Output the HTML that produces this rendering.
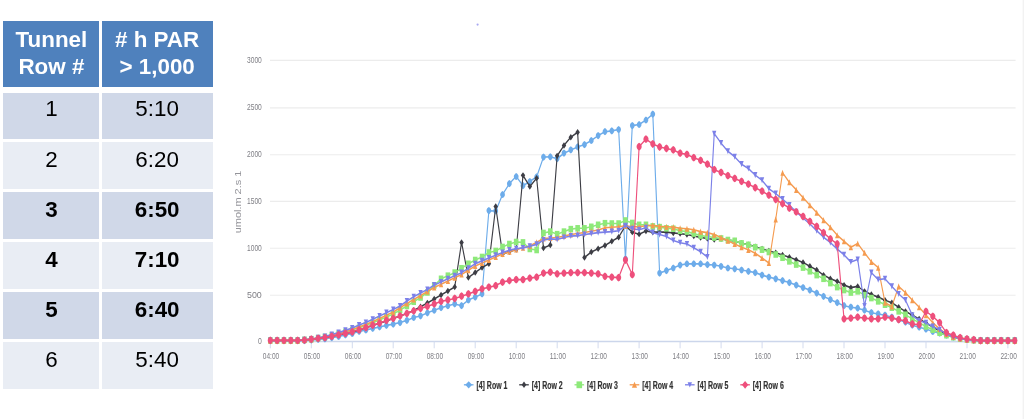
<!DOCTYPE html>
<html><head><meta charset="utf-8"><title>PAR by tunnel row</title>
<style>
html,body{margin:0;padding:0;background:#fff}
body{width:1024px;height:419px;position:relative;overflow:hidden;font-family:"Liberation Sans",sans-serif}
.c{position:absolute;text-align:center;font-size:22.4px;line-height:26.4px;color:#000;overflow:hidden}
.c span{position:relative;display:block;padding-top:6.1px}
.h{background:#4f81bd;color:#fff;font-weight:bold}
#tb{position:absolute;left:0;top:0;width:220px;height:419px;filter:blur(0.4px)}
</style></head><body>
<div id="tb">
<div class="c h" style="left:3.3px;top:21.1px;width:96.2px;height:66.3px"><span>Tunnel<br>Row #</span></div>
<div class="c h" style="left:101.7px;top:21.1px;width:110.9px;height:66.3px"><span># h PAR<br>&gt; 1,000</span></div>
<div class="c" style="left:3.3px;top:93.4px;width:96.2px;height:45.7px;background:#d0d8e8;font-weight:normal"><span style="top:-3.0px">1</span></div>
<div class="c" style="left:101.7px;top:93.4px;width:110.9px;height:45.7px;background:#d0d8e8;font-weight:normal"><span style="top:-3.0px">5:10</span></div>
<div class="c" style="left:3.3px;top:141.5px;width:96.2px;height:47.6px;background:#e9edf4;font-weight:normal"><span style="top:-1.1px">2</span></div>
<div class="c" style="left:101.7px;top:141.5px;width:110.9px;height:47.6px;background:#e9edf4;font-weight:normal"><span style="top:-1.1px">6:20</span></div>
<div class="c" style="left:3.3px;top:191.5px;width:96.2px;height:47.6px;background:#d0d8e8;font-weight:bold"><span style="top:-1.1px">3</span></div>
<div class="c" style="left:101.7px;top:191.5px;width:110.9px;height:47.6px;background:#d0d8e8;font-weight:bold"><span style="top:-1.1px">6:50</span></div>
<div class="c" style="left:3.3px;top:241.5px;width:96.2px;height:47.6px;background:#e9edf4;font-weight:bold"><span style="top:-1.1px">4</span></div>
<div class="c" style="left:101.7px;top:241.5px;width:110.9px;height:47.6px;background:#e9edf4;font-weight:bold"><span style="top:-1.1px">7:10</span></div>
<div class="c" style="left:3.3px;top:291.5px;width:96.2px;height:47.6px;background:#d0d8e8;font-weight:bold"><span style="top:-1.1px">5</span></div>
<div class="c" style="left:101.7px;top:291.5px;width:110.9px;height:47.6px;background:#d0d8e8;font-weight:bold"><span style="top:-1.1px">6:40</span></div>
<div class="c" style="left:3.3px;top:341.5px;width:96.2px;height:47.6px;background:#e9edf4;font-weight:normal"><span style="top:-1.1px">6</span></div>
<div class="c" style="left:101.7px;top:341.5px;width:110.9px;height:47.6px;background:#e9edf4;font-weight:normal"><span style="top:-1.1px">5:40</span></div>
</div>
<svg width="1024" height="419" viewBox="0 0 1024 419" style="position:absolute;left:0;top:0">
<defs><filter id="b" x="-2%" y="-2%" width="104%" height="104%"><feGaussianBlur stdDeviation="0.6"/></filter><filter id="b2" x="-5%" y="-5%" width="110%" height="110%"><feGaussianBlur stdDeviation="0.5"/></filter></defs>
<rect x="1022.6" y="0" width="1.4" height="419" fill="#f2f2f2"/>
<circle cx="477.6" cy="24.6" r="1.1" fill="#a9a9f2" filter="url(#b)"/>
<g filter="url(#b)">
<line x1="270" y1="295.2" x2="1015.6" y2="295.2" stroke="#ececec" stroke-width="1.1"/>
<line x1="270" y1="248.3" x2="1015.6" y2="248.3" stroke="#ececec" stroke-width="1.1"/>
<line x1="270" y1="201.4" x2="1015.6" y2="201.4" stroke="#ececec" stroke-width="1.1"/>
<line x1="270" y1="154.8" x2="1015.6" y2="154.8" stroke="#ececec" stroke-width="1.1"/>
<line x1="270" y1="107.9" x2="1015.6" y2="107.9" stroke="#ececec" stroke-width="1.1"/>
<line x1="270" y1="60.4" x2="1015.6" y2="60.4" stroke="#ececec" stroke-width="1.1"/>
<line x1="270" y1="341.5" x2="1015.6" y2="341.6" stroke="#ccd6eb" stroke-width="1.6"/>
<line x1="270.3" y1="341.5" x2="270.3" y2="348.3" stroke="#d3dbee" stroke-width="1"/>
<line x1="311.3" y1="341.5" x2="311.3" y2="348.3" stroke="#d3dbee" stroke-width="1"/>
<line x1="352.3" y1="341.5" x2="352.3" y2="348.3" stroke="#d3dbee" stroke-width="1"/>
<line x1="393.2" y1="341.5" x2="393.2" y2="348.3" stroke="#d3dbee" stroke-width="1"/>
<line x1="434.2" y1="341.5" x2="434.2" y2="348.3" stroke="#d3dbee" stroke-width="1"/>
<line x1="475.2" y1="341.5" x2="475.2" y2="348.3" stroke="#d3dbee" stroke-width="1"/>
<line x1="516.2" y1="341.5" x2="516.2" y2="348.3" stroke="#d3dbee" stroke-width="1"/>
<line x1="557.2" y1="341.5" x2="557.2" y2="348.3" stroke="#d3dbee" stroke-width="1"/>
<line x1="598.1" y1="341.5" x2="598.1" y2="348.3" stroke="#d3dbee" stroke-width="1"/>
<line x1="639.1" y1="341.5" x2="639.1" y2="348.3" stroke="#d3dbee" stroke-width="1"/>
<line x1="680.1" y1="341.5" x2="680.1" y2="348.3" stroke="#d3dbee" stroke-width="1"/>
<line x1="721.1" y1="341.5" x2="721.1" y2="348.3" stroke="#d3dbee" stroke-width="1"/>
<line x1="762.1" y1="341.5" x2="762.1" y2="348.3" stroke="#d3dbee" stroke-width="1"/>
<line x1="803.0" y1="341.5" x2="803.0" y2="348.3" stroke="#d3dbee" stroke-width="1"/>
<line x1="844.0" y1="341.5" x2="844.0" y2="348.3" stroke="#d3dbee" stroke-width="1"/>
<line x1="885.0" y1="341.5" x2="885.0" y2="348.3" stroke="#d3dbee" stroke-width="1"/>
<line x1="926.0" y1="341.5" x2="926.0" y2="348.3" stroke="#d3dbee" stroke-width="1"/>
<line x1="967.0" y1="341.5" x2="967.0" y2="348.3" stroke="#d3dbee" stroke-width="1"/>
<line x1="1007.9" y1="341.5" x2="1007.9" y2="348.3" stroke="#d3dbee" stroke-width="1"/>
<g transform="scale(0.56,0.8)" stroke-linejoin="round" fill="none">
<polyline points="482.7,425.8 494.9,425.8 507.1,425.8 519.3,425.8 531.5,425.8 543.7,425.8 555.9,425.0 568.1,424.2 580.2,423.5 592.4,422.1 604.6,420.6 616.8,418.8 629.0,416.9 641.2,414.2 653.4,412.5 665.6,410.5 677.8,408.8 690.0,406.7 702.2,405.2 714.4,403.2 726.6,400.5 738.8,396.9 751.0,394.9 763.2,391.0 775.4,387.8 787.6,384.6 799.8,382.2 812.0,379.9 824.2,382.1 836.4,375.0 848.6,371.2 860.8,367.4 873.0,263.4 885.2,263.8 897.4,243.1 909.6,229.6 921.8,220.6 933.9,232.1 946.1,226.9 958.3,221.0 970.5,196.4 982.7,196.0 994.9,198.4 1007.1,191.5 1019.3,187.4 1031.5,183.8 1043.7,180.7 1055.9,175.6 1068.1,169.5 1080.3,164.6 1092.5,163.6 1104.7,161.9 1116.9,323.8 1129.1,157.0 1141.3,155.6 1153.5,150.0 1165.7,142.6 1177.9,341.4 1190.1,338.2 1202.3,335.0 1214.5,331.2 1226.7,329.8 1238.9,329.8 1251.1,329.8 1263.2,330.8 1275.4,331.2 1287.6,332.9 1299.8,335.0 1312.0,336.0 1324.2,337.5 1336.4,339.1 1348.6,340.8 1360.8,343.9 1373.0,346.4 1385.2,348.5 1397.4,350.8 1409.6,353.2 1421.8,356.4 1434.0,359.5 1446.2,362.6 1458.4,366.4 1470.6,370.5 1482.8,374.5 1495.0,378.4 1507.2,382.1 1519.4,384.0 1531.6,385.2 1543.8,387.7 1556.0,390.9 1568.2,392.4 1580.4,394.0 1592.6,396.5 1604.8,399.6 1616.9,402.7 1629.1,406.5 1641.3,409.0 1653.5,411.2 1665.7,414.4 1677.9,416.5 1690.1,419.0 1702.3,421.5 1714.5,423.1 1726.7,424.4 1738.9,425.4 1751.1,425.9 1763.3,425.9 1775.5,425.9 1787.7,425.9 1799.9,425.9 1812.1,425.9" stroke="#6dacea" stroke-width="2.0"/>
<g stroke="none"><path d="M482.7 421.2C488.3 423.5 488.3 428.0 482.7 430.2C477.1 428.0 477.1 423.5 482.7 421.2Z" fill="#6dacea"/><path d="M494.9 421.2C500.5 423.5 500.5 428.0 494.9 430.2C489.2 428.0 489.2 423.5 494.9 421.2Z" fill="#6dacea"/><path d="M507.1 421.2C512.7 423.5 512.7 428.0 507.1 430.2C501.4 428.0 501.4 423.5 507.1 421.2Z" fill="#6dacea"/><path d="M519.3 421.2C524.9 423.5 524.9 428.0 519.3 430.2C513.6 428.0 513.6 423.5 519.3 421.2Z" fill="#6dacea"/><path d="M531.5 421.2C537.1 423.5 537.1 428.0 531.5 430.2C525.8 428.0 525.8 423.5 531.5 421.2Z" fill="#6dacea"/><path d="M543.7 421.2C549.3 423.5 549.3 428.0 543.7 430.2C538.0 428.0 538.0 423.5 543.7 421.2Z" fill="#6dacea"/><path d="M555.9 420.5C561.5 422.8 561.5 427.2 555.9 429.5C550.2 427.2 550.2 422.8 555.9 420.5Z" fill="#6dacea"/><path d="M568.1 419.7C573.7 422.0 573.7 426.5 568.1 428.7C562.4 426.5 562.4 422.0 568.1 419.7Z" fill="#6dacea"/><path d="M580.2 419.0C585.9 421.2 585.9 425.8 580.2 428.0C574.6 425.8 574.6 421.2 580.2 419.0Z" fill="#6dacea"/><path d="M592.4 417.6C598.1 419.8 598.1 424.3 592.4 426.6C586.8 424.3 586.8 419.8 592.4 417.6Z" fill="#6dacea"/><path d="M604.6 416.1C610.3 418.4 610.3 422.9 604.6 425.1C599.0 422.9 599.0 418.4 604.6 416.1Z" fill="#6dacea"/><path d="M616.8 414.2C622.5 416.5 622.5 421.0 616.8 423.2C611.2 421.0 611.2 416.5 616.8 414.2Z" fill="#6dacea"/><path d="M629.0 412.4C634.7 414.6 634.7 419.1 629.0 421.4C623.4 419.1 623.4 414.6 629.0 412.4Z" fill="#6dacea"/><path d="M641.2 409.7C646.9 412.0 646.9 416.5 641.2 418.7C635.6 416.5 635.6 412.0 641.2 409.7Z" fill="#6dacea"/><path d="M653.4 408.0C659.1 410.2 659.1 414.8 653.4 417.0C647.8 414.8 647.8 410.2 653.4 408.0Z" fill="#6dacea"/><path d="M665.6 406.0C671.2 408.2 671.2 412.7 665.6 415.0C660.0 412.7 660.0 408.2 665.6 406.0Z" fill="#6dacea"/><path d="M677.8 404.2C683.4 406.5 683.4 411.0 677.8 413.2C672.2 411.0 672.2 406.5 677.8 404.2Z" fill="#6dacea"/><path d="M690.0 402.2C695.6 404.5 695.6 409.0 690.0 411.2C684.4 409.0 684.4 404.5 690.0 402.2Z" fill="#6dacea"/><path d="M702.2 400.7C707.8 403.0 707.8 407.5 702.2 409.7C696.6 407.5 696.6 403.0 702.2 400.7Z" fill="#6dacea"/><path d="M714.4 398.8C720.0 401.0 720.0 405.5 714.4 407.8C708.8 405.5 708.8 401.0 714.4 398.8Z" fill="#6dacea"/><path d="M726.6 396.0C732.2 398.2 732.2 402.7 726.6 405.0C721.0 402.7 721.0 398.2 726.6 396.0Z" fill="#6dacea"/><path d="M738.8 392.4C744.4 394.6 744.4 399.1 738.8 401.4C733.2 399.1 733.2 394.6 738.8 392.4Z" fill="#6dacea"/><path d="M751.0 390.4C756.6 392.6 756.6 397.1 751.0 399.4C745.4 397.1 745.4 392.6 751.0 390.4Z" fill="#6dacea"/><path d="M763.2 386.5C768.8 388.8 768.8 393.2 763.2 395.5C757.6 393.2 757.6 388.8 763.2 386.5Z" fill="#6dacea"/><path d="M775.4 383.3C781.0 385.6 781.0 390.1 775.4 392.3C769.8 390.1 769.8 385.6 775.4 383.3Z" fill="#6dacea"/><path d="M787.6 380.1C793.2 382.4 793.2 386.9 787.6 389.1C782.0 386.9 782.0 382.4 787.6 380.1Z" fill="#6dacea"/><path d="M799.8 377.7C805.4 380.0 805.4 384.5 799.8 386.7C794.2 384.5 794.2 380.0 799.8 377.7Z" fill="#6dacea"/><path d="M812.0 375.4C817.6 377.6 817.6 382.1 812.0 384.4C806.4 382.1 806.4 377.6 812.0 375.4Z" fill="#6dacea"/><path d="M824.2 377.6C829.8 379.9 829.8 384.4 824.2 386.6C818.6 384.4 818.6 379.9 824.2 377.6Z" fill="#6dacea"/><path d="M836.4 370.5C842.0 372.8 842.0 377.2 836.4 379.5C830.7 377.2 830.7 372.8 836.4 370.5Z" fill="#6dacea"/><path d="M848.6 366.8C854.2 369.0 854.2 373.5 848.6 375.8C842.9 373.5 842.9 369.0 848.6 366.8Z" fill="#6dacea"/><path d="M860.8 362.9C866.4 365.1 866.4 369.6 860.8 371.9C855.1 369.6 855.1 365.1 860.8 362.9Z" fill="#6dacea"/><path d="M873.0 258.9C878.6 261.1 878.6 265.6 873.0 267.9C867.3 265.6 867.3 261.1 873.0 258.9Z" fill="#6dacea"/><path d="M885.2 259.2C890.8 261.5 890.8 266.0 885.2 268.2C879.5 266.0 879.5 261.5 885.2 259.2Z" fill="#6dacea"/><path d="M897.4 238.6C903.0 240.9 903.0 245.4 897.4 247.6C891.7 245.4 891.7 240.9 897.4 238.6Z" fill="#6dacea"/><path d="M909.6 225.1C915.2 227.4 915.2 231.9 909.6 234.1C903.9 231.9 903.9 227.4 909.6 225.1Z" fill="#6dacea"/><path d="M921.8 216.1C927.4 218.4 927.4 222.9 921.8 225.1C916.1 222.9 916.1 218.4 921.8 216.1Z" fill="#6dacea"/><path d="M933.9 227.6C939.6 229.9 939.6 234.4 933.9 236.6C928.3 234.4 928.3 229.9 933.9 227.6Z" fill="#6dacea"/><path d="M946.1 222.4C951.8 224.6 951.8 229.1 946.1 231.4C940.5 229.1 940.5 224.6 946.1 222.4Z" fill="#6dacea"/><path d="M958.3 216.5C964.0 218.8 964.0 223.2 958.3 225.5C952.7 223.2 952.7 218.8 958.3 216.5Z" fill="#6dacea"/><path d="M970.5 191.9C976.2 194.1 976.2 198.6 970.5 200.9C964.9 198.6 964.9 194.1 970.5 191.9Z" fill="#6dacea"/><path d="M982.7 191.5C988.4 193.8 988.4 198.2 982.7 200.5C977.1 198.2 977.1 193.8 982.7 191.5Z" fill="#6dacea"/><path d="M994.9 193.9C1000.6 196.1 1000.6 200.6 994.9 202.9C989.3 200.6 989.3 196.1 994.9 193.9Z" fill="#6dacea"/><path d="M1007.1 187.0C1012.7 189.2 1012.7 193.7 1007.1 196.0C1001.5 193.7 1001.5 189.2 1007.1 187.0Z" fill="#6dacea"/><path d="M1019.3 182.9C1024.9 185.1 1024.9 189.6 1019.3 191.9C1013.7 189.6 1013.7 185.1 1019.3 182.9Z" fill="#6dacea"/><path d="M1031.5 179.2C1037.1 181.5 1037.1 186.0 1031.5 188.2C1025.9 186.0 1025.9 181.5 1031.5 179.2Z" fill="#6dacea"/><path d="M1043.7 176.2C1049.3 178.5 1049.3 183.0 1043.7 185.2C1038.1 183.0 1038.1 178.5 1043.7 176.2Z" fill="#6dacea"/><path d="M1055.9 171.1C1061.5 173.4 1061.5 177.9 1055.9 180.1C1050.3 177.9 1050.3 173.4 1055.9 171.1Z" fill="#6dacea"/><path d="M1068.1 165.0C1073.7 167.2 1073.7 171.7 1068.1 174.0C1062.5 171.7 1062.5 167.2 1068.1 165.0Z" fill="#6dacea"/><path d="M1080.3 160.1C1085.9 162.4 1085.9 166.9 1080.3 169.1C1074.7 166.9 1074.7 162.4 1080.3 160.1Z" fill="#6dacea"/><path d="M1092.5 159.1C1098.1 161.4 1098.1 165.9 1092.5 168.1C1086.9 165.9 1086.9 161.4 1092.5 159.1Z" fill="#6dacea"/><path d="M1104.7 157.4C1110.3 159.6 1110.3 164.1 1104.7 166.4C1099.1 164.1 1099.1 159.6 1104.7 157.4Z" fill="#6dacea"/><path d="M1116.9 319.2C1122.5 321.5 1122.5 326.0 1116.9 328.2C1111.3 326.0 1111.3 321.5 1116.9 319.2Z" fill="#6dacea"/><path d="M1129.1 152.5C1134.7 154.7 1134.7 159.2 1129.1 161.5C1123.5 159.2 1123.5 154.7 1129.1 152.5Z" fill="#6dacea"/><path d="M1141.3 151.1C1146.9 153.4 1146.9 157.9 1141.3 160.1C1135.7 157.9 1135.7 153.4 1141.3 151.1Z" fill="#6dacea"/><path d="M1153.5 145.5C1159.1 147.8 1159.1 152.2 1153.5 154.5C1147.9 152.2 1147.9 147.8 1153.5 145.5Z" fill="#6dacea"/><path d="M1165.7 138.1C1171.3 140.4 1171.3 144.9 1165.7 147.1C1160.1 144.9 1160.1 140.4 1165.7 138.1Z" fill="#6dacea"/><path d="M1177.9 336.9C1183.5 339.1 1183.5 343.6 1177.9 345.9C1172.2 343.6 1172.2 339.1 1177.9 336.9Z" fill="#6dacea"/><path d="M1190.1 333.8C1195.7 336.0 1195.7 340.5 1190.1 342.8C1184.4 340.5 1184.4 336.0 1190.1 333.8Z" fill="#6dacea"/><path d="M1202.3 330.5C1207.9 332.8 1207.9 337.2 1202.3 339.5C1196.6 337.2 1196.6 332.8 1202.3 330.5Z" fill="#6dacea"/><path d="M1214.5 326.8C1220.1 329.0 1220.1 333.5 1214.5 335.8C1208.8 333.5 1208.8 329.0 1214.5 326.8Z" fill="#6dacea"/><path d="M1226.7 325.2C1232.3 327.5 1232.3 332.0 1226.7 334.2C1221.0 332.0 1221.0 327.5 1226.7 325.2Z" fill="#6dacea"/><path d="M1238.9 325.2C1244.5 327.5 1244.5 332.0 1238.9 334.2C1233.2 332.0 1233.2 327.5 1238.9 325.2Z" fill="#6dacea"/><path d="M1251.1 325.2C1256.7 327.5 1256.7 332.0 1251.1 334.2C1245.4 332.0 1245.4 327.5 1251.1 325.2Z" fill="#6dacea"/><path d="M1263.2 326.2C1268.9 328.5 1268.9 333.0 1263.2 335.2C1257.6 333.0 1257.6 328.5 1263.2 326.2Z" fill="#6dacea"/><path d="M1275.4 326.8C1281.1 329.0 1281.1 333.5 1275.4 335.8C1269.8 333.5 1269.8 329.0 1275.4 326.8Z" fill="#6dacea"/><path d="M1287.6 328.4C1293.3 330.6 1293.3 335.1 1287.6 337.4C1282.0 335.1 1282.0 330.6 1287.6 328.4Z" fill="#6dacea"/><path d="M1299.8 330.5C1305.5 332.8 1305.5 337.2 1299.8 339.5C1294.2 337.2 1294.2 332.8 1299.8 330.5Z" fill="#6dacea"/><path d="M1312.0 331.5C1317.7 333.8 1317.7 338.2 1312.0 340.5C1306.4 338.2 1306.4 333.8 1312.0 331.5Z" fill="#6dacea"/><path d="M1324.2 333.0C1329.9 335.2 1329.9 339.8 1324.2 342.0C1318.6 339.8 1318.6 335.2 1324.2 333.0Z" fill="#6dacea"/><path d="M1336.4 334.6C1342.1 336.9 1342.1 341.4 1336.4 343.6C1330.8 341.4 1330.8 336.9 1336.4 334.6Z" fill="#6dacea"/><path d="M1348.6 336.2C1354.2 338.5 1354.2 343.0 1348.6 345.2C1343.0 343.0 1343.0 338.5 1348.6 336.2Z" fill="#6dacea"/><path d="M1360.8 339.4C1366.4 341.6 1366.4 346.1 1360.8 348.4C1355.2 346.1 1355.2 341.6 1360.8 339.4Z" fill="#6dacea"/><path d="M1373.0 341.9C1378.6 344.1 1378.6 348.6 1373.0 350.9C1367.4 348.6 1367.4 344.1 1373.0 341.9Z" fill="#6dacea"/><path d="M1385.2 344.0C1390.8 346.2 1390.8 350.8 1385.2 353.0C1379.6 350.8 1379.6 346.2 1385.2 344.0Z" fill="#6dacea"/><path d="M1397.4 346.2C1403.0 348.5 1403.0 353.0 1397.4 355.2C1391.8 353.0 1391.8 348.5 1397.4 346.2Z" fill="#6dacea"/><path d="M1409.6 348.8C1415.2 351.0 1415.2 355.5 1409.6 357.8C1404.0 355.5 1404.0 351.0 1409.6 348.8Z" fill="#6dacea"/><path d="M1421.8 351.9C1427.4 354.1 1427.4 358.6 1421.8 360.9C1416.2 358.6 1416.2 354.1 1421.8 351.9Z" fill="#6dacea"/><path d="M1434.0 355.0C1439.6 357.2 1439.6 361.8 1434.0 364.0C1428.4 361.8 1428.4 357.2 1434.0 355.0Z" fill="#6dacea"/><path d="M1446.2 358.1C1451.8 360.4 1451.8 364.9 1446.2 367.1C1440.6 364.9 1440.6 360.4 1446.2 358.1Z" fill="#6dacea"/><path d="M1458.4 361.9C1464.0 364.1 1464.0 368.6 1458.4 370.9C1452.8 368.6 1452.8 364.1 1458.4 361.9Z" fill="#6dacea"/><path d="M1470.6 366.0C1476.2 368.2 1476.2 372.7 1470.6 375.0C1465.0 372.7 1465.0 368.2 1470.6 366.0Z" fill="#6dacea"/><path d="M1482.8 370.0C1488.4 372.2 1488.4 376.8 1482.8 379.0C1477.2 376.8 1477.2 372.2 1482.8 370.0Z" fill="#6dacea"/><path d="M1495.0 373.9C1500.6 376.1 1500.6 380.6 1495.0 382.9C1489.4 380.6 1489.4 376.1 1495.0 373.9Z" fill="#6dacea"/><path d="M1507.2 377.6C1512.8 379.9 1512.8 384.4 1507.2 386.6C1501.6 384.4 1501.6 379.9 1507.2 377.6Z" fill="#6dacea"/><path d="M1519.4 379.5C1525.0 381.7 1525.0 386.2 1519.4 388.5C1513.7 386.2 1513.7 381.7 1519.4 379.5Z" fill="#6dacea"/><path d="M1531.6 380.7C1537.2 383.0 1537.2 387.5 1531.6 389.7C1525.9 387.5 1525.9 383.0 1531.6 380.7Z" fill="#6dacea"/><path d="M1543.8 383.2C1549.4 385.5 1549.4 390.0 1543.8 392.2C1538.1 390.0 1538.1 385.5 1543.8 383.2Z" fill="#6dacea"/><path d="M1556.0 386.4C1561.6 388.6 1561.6 393.1 1556.0 395.4C1550.3 393.1 1550.3 388.6 1556.0 386.4Z" fill="#6dacea"/><path d="M1568.2 387.9C1573.8 390.1 1573.8 394.6 1568.2 396.9C1562.5 394.6 1562.5 390.1 1568.2 387.9Z" fill="#6dacea"/><path d="M1580.4 389.5C1586.0 391.7 1586.0 396.2 1580.4 398.5C1574.7 396.2 1574.7 391.7 1580.4 389.5Z" fill="#6dacea"/><path d="M1592.6 392.0C1598.2 394.2 1598.2 398.7 1592.6 401.0C1586.9 398.7 1586.9 394.2 1592.6 392.0Z" fill="#6dacea"/><path d="M1604.8 395.1C1610.4 397.4 1610.4 401.9 1604.8 404.1C1599.1 401.9 1599.1 397.4 1604.8 395.1Z" fill="#6dacea"/><path d="M1616.9 398.2C1622.6 400.5 1622.6 405.0 1616.9 407.2C1611.3 405.0 1611.3 400.5 1616.9 398.2Z" fill="#6dacea"/><path d="M1629.1 402.0C1634.8 404.2 1634.8 408.7 1629.1 411.0C1623.5 408.7 1623.5 404.2 1629.1 402.0Z" fill="#6dacea"/><path d="M1641.3 404.5C1647.0 406.7 1647.0 411.2 1641.3 413.5C1635.7 411.2 1635.7 406.7 1641.3 404.5Z" fill="#6dacea"/><path d="M1653.5 406.8C1659.2 409.0 1659.2 413.5 1653.5 415.8C1647.9 413.5 1647.9 409.0 1653.5 406.8Z" fill="#6dacea"/><path d="M1665.7 409.9C1671.4 412.1 1671.4 416.6 1665.7 418.9C1660.1 416.6 1660.1 412.1 1665.7 409.9Z" fill="#6dacea"/><path d="M1677.9 412.0C1683.6 414.2 1683.6 418.7 1677.9 421.0C1672.3 418.7 1672.3 414.2 1677.9 412.0Z" fill="#6dacea"/><path d="M1690.1 414.5C1695.8 416.7 1695.8 421.2 1690.1 423.5C1684.5 421.2 1684.5 416.7 1690.1 414.5Z" fill="#6dacea"/><path d="M1702.3 417.0C1707.9 419.2 1707.9 423.7 1702.3 426.0C1696.7 423.7 1696.7 419.2 1702.3 417.0Z" fill="#6dacea"/><path d="M1714.5 418.6C1720.1 420.9 1720.1 425.4 1714.5 427.6C1708.9 425.4 1708.9 420.9 1714.5 418.6Z" fill="#6dacea"/><path d="M1726.7 419.9C1732.3 422.1 1732.3 426.6 1726.7 428.9C1721.1 426.6 1721.1 422.1 1726.7 419.9Z" fill="#6dacea"/><path d="M1738.9 420.9C1744.5 423.1 1744.5 427.6 1738.9 429.9C1733.3 427.6 1733.3 423.1 1738.9 420.9Z" fill="#6dacea"/><path d="M1751.1 421.4C1756.7 423.6 1756.7 428.1 1751.1 430.4C1745.5 428.1 1745.5 423.6 1751.1 421.4Z" fill="#6dacea"/><path d="M1763.3 421.4C1768.9 423.6 1768.9 428.1 1763.3 430.4C1757.7 428.1 1757.7 423.6 1763.3 421.4Z" fill="#6dacea"/><path d="M1775.5 421.4C1781.1 423.6 1781.1 428.1 1775.5 430.4C1769.9 428.1 1769.9 423.6 1775.5 421.4Z" fill="#6dacea"/><path d="M1787.7 421.4C1793.3 423.6 1793.3 428.1 1787.7 430.4C1782.1 428.1 1782.1 423.6 1787.7 421.4Z" fill="#6dacea"/><path d="M1799.9 421.4C1805.5 423.6 1805.5 428.1 1799.9 430.4C1794.3 428.1 1794.3 423.6 1799.9 421.4Z" fill="#6dacea"/><path d="M1812.1 421.4C1817.7 423.6 1817.7 428.1 1812.1 430.4C1806.5 428.1 1806.5 423.6 1812.1 421.4Z" fill="#6dacea"/></g>
<polyline points="482.7,425.6 494.9,425.6 507.1,425.6 519.3,425.6 531.5,425.6 543.7,424.9 555.9,424.2 568.1,423.2 580.2,422.1 592.4,420.4 604.6,418.8 616.8,416.9 629.0,415.0 641.2,412.4 653.4,409.8 665.6,406.9 677.8,404.1 690.0,401.2 702.2,398.2 714.4,395.1 726.6,391.9 738.8,388.1 751.0,383.5 763.2,378.8 775.4,373.8 787.6,368.8 799.8,363.8 812.0,358.8 824.2,303.1 836.4,347.0 848.6,340.6 860.8,334.5 873.0,329.8 885.2,258.2 897.4,317.5 909.6,314.8 921.8,311.9 933.9,219.2 946.1,233.2 958.3,222.7 970.5,310.0 982.7,306.2 994.9,194.8 1007.1,181.8 1019.3,171.5 1031.5,165.4 1043.7,321.9 1055.9,315.0 1068.1,311.0 1080.3,306.8 1092.5,301.6 1104.7,296.6 1116.9,282.2 1129.1,290.2 1141.3,292.7 1153.5,288.8 1165.7,290.2 1177.9,290.0 1190.1,290.2 1202.3,291.2 1214.5,292.0 1226.7,293.2 1238.9,295.1 1251.1,296.9 1263.2,298.1 1275.4,299.4 1287.6,298.5 1299.8,300.2 1312.0,301.2 1324.2,304.0 1336.4,305.8 1348.6,308.5 1360.8,311.2 1373.0,313.8 1385.2,316.0 1397.4,318.8 1409.6,321.6 1421.8,324.8 1434.0,328.2 1446.2,332.9 1458.4,337.5 1470.6,343.9 1482.8,348.5 1495.0,351.7 1507.2,356.4 1519.4,359.5 1531.6,358.0 1543.8,364.2 1556.0,368.2 1568.2,371.4 1580.4,375.2 1592.6,378.4 1604.8,384.0 1616.9,389.2 1629.1,394.0 1641.3,398.6 1653.5,403.8 1665.7,408.8 1677.9,413.8 1690.1,418.1 1702.3,421.2 1714.5,423.1 1726.7,424.4 1738.9,425.2 1751.1,425.8 1763.3,425.8 1775.5,425.8 1787.7,425.8 1799.9,425.8 1812.1,425.8" stroke="#3c3d44" stroke-width="2.0"/>
<g stroke="none"><path d="M482.7 421.6L486.7 425.6 482.7 429.6 478.7 425.6Z" fill="#3c3d44"/><path d="M494.9 421.6L498.9 425.6 494.9 429.6 490.9 425.6Z" fill="#3c3d44"/><path d="M507.1 421.6L511.1 425.6 507.1 429.6 503.1 425.6Z" fill="#3c3d44"/><path d="M519.3 421.6L523.3 425.6 519.3 429.6 515.3 425.6Z" fill="#3c3d44"/><path d="M531.5 421.6L535.5 425.6 531.5 429.6 527.5 425.6Z" fill="#3c3d44"/><path d="M543.7 420.9L547.7 424.9 543.7 428.9 539.7 424.9Z" fill="#3c3d44"/><path d="M555.9 420.2L559.9 424.2 555.9 428.2 551.9 424.2Z" fill="#3c3d44"/><path d="M568.1 419.2L572.1 423.2 568.1 427.2 564.1 423.2Z" fill="#3c3d44"/><path d="M580.2 418.1L584.2 422.1 580.2 426.1 576.2 422.1Z" fill="#3c3d44"/><path d="M592.4 416.4L596.4 420.4 592.4 424.4 588.4 420.4Z" fill="#3c3d44"/><path d="M604.6 414.8L608.6 418.8 604.6 422.8 600.6 418.8Z" fill="#3c3d44"/><path d="M616.8 412.9L620.8 416.9 616.8 420.9 612.8 416.9Z" fill="#3c3d44"/><path d="M629.0 411.0L633.0 415.0 629.0 419.0 625.0 415.0Z" fill="#3c3d44"/><path d="M641.2 408.4L645.2 412.4 641.2 416.4 637.2 412.4Z" fill="#3c3d44"/><path d="M653.4 405.8L657.4 409.8 653.4 413.8 649.4 409.8Z" fill="#3c3d44"/><path d="M665.6 402.9L669.6 406.9 665.6 410.9 661.6 406.9Z" fill="#3c3d44"/><path d="M677.8 400.1L681.8 404.1 677.8 408.1 673.8 404.1Z" fill="#3c3d44"/><path d="M690.0 397.2L694.0 401.2 690.0 405.2 686.0 401.2Z" fill="#3c3d44"/><path d="M702.2 394.2L706.2 398.2 702.2 402.2 698.2 398.2Z" fill="#3c3d44"/><path d="M714.4 391.1L718.4 395.1 714.4 399.1 710.4 395.1Z" fill="#3c3d44"/><path d="M726.6 387.9L730.6 391.9 726.6 395.9 722.6 391.9Z" fill="#3c3d44"/><path d="M738.8 384.1L742.8 388.1 738.8 392.1 734.8 388.1Z" fill="#3c3d44"/><path d="M751.0 379.5L755.0 383.5 751.0 387.5 747.0 383.5Z" fill="#3c3d44"/><path d="M763.2 374.8L767.2 378.8 763.2 382.8 759.2 378.8Z" fill="#3c3d44"/><path d="M775.4 369.8L779.4 373.8 775.4 377.8 771.4 373.8Z" fill="#3c3d44"/><path d="M787.6 364.8L791.6 368.8 787.6 372.8 783.6 368.8Z" fill="#3c3d44"/><path d="M799.8 359.8L803.8 363.8 799.8 367.8 795.8 363.8Z" fill="#3c3d44"/><path d="M812.0 354.8L816.0 358.8 812.0 362.8 808.0 358.8Z" fill="#3c3d44"/><path d="M824.2 299.1L828.2 303.1 824.2 307.1 820.2 303.1Z" fill="#3c3d44"/><path d="M836.4 343.0L840.4 347.0 836.4 351.0 832.4 347.0Z" fill="#3c3d44"/><path d="M848.6 336.6L852.6 340.6 848.6 344.6 844.6 340.6Z" fill="#3c3d44"/><path d="M860.8 330.5L864.8 334.5 860.8 338.5 856.8 334.5Z" fill="#3c3d44"/><path d="M873.0 325.8L877.0 329.8 873.0 333.8 869.0 329.8Z" fill="#3c3d44"/><path d="M885.2 254.2L889.2 258.2 885.2 262.2 881.2 258.2Z" fill="#3c3d44"/><path d="M897.4 313.5L901.4 317.5 897.4 321.5 893.4 317.5Z" fill="#3c3d44"/><path d="M909.6 310.8L913.6 314.8 909.6 318.8 905.6 314.8Z" fill="#3c3d44"/><path d="M921.8 307.9L925.8 311.9 921.8 315.9 917.8 311.9Z" fill="#3c3d44"/><path d="M933.9 215.2L937.9 219.2 933.9 223.2 929.9 219.2Z" fill="#3c3d44"/><path d="M946.1 229.2L950.1 233.2 946.1 237.2 942.1 233.2Z" fill="#3c3d44"/><path d="M958.3 218.7L962.3 222.7 958.3 226.7 954.3 222.7Z" fill="#3c3d44"/><path d="M970.5 306.0L974.5 310.0 970.5 314.0 966.5 310.0Z" fill="#3c3d44"/><path d="M982.7 302.2L986.7 306.2 982.7 310.2 978.7 306.2Z" fill="#3c3d44"/><path d="M994.9 190.8L998.9 194.8 994.9 198.8 990.9 194.8Z" fill="#3c3d44"/><path d="M1007.1 177.8L1011.1 181.8 1007.1 185.8 1003.1 181.8Z" fill="#3c3d44"/><path d="M1019.3 167.5L1023.3 171.5 1019.3 175.5 1015.3 171.5Z" fill="#3c3d44"/><path d="M1031.5 161.4L1035.5 165.4 1031.5 169.4 1027.5 165.4Z" fill="#3c3d44"/><path d="M1043.7 317.9L1047.7 321.9 1043.7 325.9 1039.7 321.9Z" fill="#3c3d44"/><path d="M1055.9 311.0L1059.9 315.0 1055.9 319.0 1051.9 315.0Z" fill="#3c3d44"/><path d="M1068.1 307.0L1072.1 311.0 1068.1 315.0 1064.1 311.0Z" fill="#3c3d44"/><path d="M1080.3 302.8L1084.3 306.8 1080.3 310.8 1076.3 306.8Z" fill="#3c3d44"/><path d="M1092.5 297.6L1096.5 301.6 1092.5 305.6 1088.5 301.6Z" fill="#3c3d44"/><path d="M1104.7 292.6L1108.7 296.6 1104.7 300.6 1100.7 296.6Z" fill="#3c3d44"/><path d="M1116.9 278.2L1120.9 282.2 1116.9 286.2 1112.9 282.2Z" fill="#3c3d44"/><path d="M1129.1 286.2L1133.1 290.2 1129.1 294.2 1125.1 290.2Z" fill="#3c3d44"/><path d="M1141.3 288.7L1145.3 292.7 1141.3 296.7 1137.3 292.7Z" fill="#3c3d44"/><path d="M1153.5 284.8L1157.5 288.8 1153.5 292.8 1149.5 288.8Z" fill="#3c3d44"/><path d="M1165.7 286.2L1169.7 290.2 1165.7 294.2 1161.7 290.2Z" fill="#3c3d44"/><path d="M1177.9 286.0L1181.9 290.0 1177.9 294.0 1173.9 290.0Z" fill="#3c3d44"/><path d="M1190.1 286.2L1194.1 290.2 1190.1 294.2 1186.1 290.2Z" fill="#3c3d44"/><path d="M1202.3 287.2L1206.3 291.2 1202.3 295.2 1198.3 291.2Z" fill="#3c3d44"/><path d="M1214.5 288.0L1218.5 292.0 1214.5 296.0 1210.5 292.0Z" fill="#3c3d44"/><path d="M1226.7 289.2L1230.7 293.2 1226.7 297.2 1222.7 293.2Z" fill="#3c3d44"/><path d="M1238.9 291.1L1242.9 295.1 1238.9 299.1 1234.9 295.1Z" fill="#3c3d44"/><path d="M1251.1 292.9L1255.1 296.9 1251.1 300.9 1247.1 296.9Z" fill="#3c3d44"/><path d="M1263.2 294.1L1267.2 298.1 1263.2 302.1 1259.2 298.1Z" fill="#3c3d44"/><path d="M1275.4 295.4L1279.4 299.4 1275.4 303.4 1271.4 299.4Z" fill="#3c3d44"/><path d="M1287.6 294.5L1291.6 298.5 1287.6 302.5 1283.6 298.5Z" fill="#3c3d44"/><path d="M1299.8 296.2L1303.8 300.2 1299.8 304.2 1295.8 300.2Z" fill="#3c3d44"/><path d="M1312.0 297.2L1316.0 301.2 1312.0 305.2 1308.0 301.2Z" fill="#3c3d44"/><path d="M1324.2 300.0L1328.2 304.0 1324.2 308.0 1320.2 304.0Z" fill="#3c3d44"/><path d="M1336.4 301.8L1340.4 305.8 1336.4 309.8 1332.4 305.8Z" fill="#3c3d44"/><path d="M1348.6 304.5L1352.6 308.5 1348.6 312.5 1344.6 308.5Z" fill="#3c3d44"/><path d="M1360.8 307.2L1364.8 311.2 1360.8 315.2 1356.8 311.2Z" fill="#3c3d44"/><path d="M1373.0 309.8L1377.0 313.8 1373.0 317.8 1369.0 313.8Z" fill="#3c3d44"/><path d="M1385.2 312.0L1389.2 316.0 1385.2 320.0 1381.2 316.0Z" fill="#3c3d44"/><path d="M1397.4 314.8L1401.4 318.8 1397.4 322.8 1393.4 318.8Z" fill="#3c3d44"/><path d="M1409.6 317.6L1413.6 321.6 1409.6 325.6 1405.6 321.6Z" fill="#3c3d44"/><path d="M1421.8 320.8L1425.8 324.8 1421.8 328.8 1417.8 324.8Z" fill="#3c3d44"/><path d="M1434.0 324.2L1438.0 328.2 1434.0 332.2 1430.0 328.2Z" fill="#3c3d44"/><path d="M1446.2 328.9L1450.2 332.9 1446.2 336.9 1442.2 332.9Z" fill="#3c3d44"/><path d="M1458.4 333.5L1462.4 337.5 1458.4 341.5 1454.4 337.5Z" fill="#3c3d44"/><path d="M1470.6 339.9L1474.6 343.9 1470.6 347.9 1466.6 343.9Z" fill="#3c3d44"/><path d="M1482.8 344.5L1486.8 348.5 1482.8 352.5 1478.8 348.5Z" fill="#3c3d44"/><path d="M1495.0 347.7L1499.0 351.7 1495.0 355.7 1491.0 351.7Z" fill="#3c3d44"/><path d="M1507.2 352.4L1511.2 356.4 1507.2 360.4 1503.2 356.4Z" fill="#3c3d44"/><path d="M1519.4 355.5L1523.4 359.5 1519.4 363.5 1515.4 359.5Z" fill="#3c3d44"/><path d="M1531.6 354.0L1535.6 358.0 1531.6 362.0 1527.6 358.0Z" fill="#3c3d44"/><path d="M1543.8 360.2L1547.8 364.2 1543.8 368.2 1539.8 364.2Z" fill="#3c3d44"/><path d="M1556.0 364.2L1560.0 368.2 1556.0 372.2 1552.0 368.2Z" fill="#3c3d44"/><path d="M1568.2 367.4L1572.2 371.4 1568.2 375.4 1564.2 371.4Z" fill="#3c3d44"/><path d="M1580.4 371.2L1584.4 375.2 1580.4 379.2 1576.4 375.2Z" fill="#3c3d44"/><path d="M1592.6 374.4L1596.6 378.4 1592.6 382.4 1588.6 378.4Z" fill="#3c3d44"/><path d="M1604.8 380.0L1608.8 384.0 1604.8 388.0 1600.8 384.0Z" fill="#3c3d44"/><path d="M1616.9 385.2L1620.9 389.2 1616.9 393.2 1612.9 389.2Z" fill="#3c3d44"/><path d="M1629.1 390.0L1633.1 394.0 1629.1 398.0 1625.1 394.0Z" fill="#3c3d44"/><path d="M1641.3 394.6L1645.3 398.6 1641.3 402.6 1637.3 398.6Z" fill="#3c3d44"/><path d="M1653.5 399.8L1657.5 403.8 1653.5 407.8 1649.5 403.8Z" fill="#3c3d44"/><path d="M1665.7 404.8L1669.7 408.8 1665.7 412.8 1661.7 408.8Z" fill="#3c3d44"/><path d="M1677.9 409.8L1681.9 413.8 1677.9 417.8 1673.9 413.8Z" fill="#3c3d44"/><path d="M1690.1 414.1L1694.1 418.1 1690.1 422.1 1686.1 418.1Z" fill="#3c3d44"/><path d="M1702.3 417.2L1706.3 421.2 1702.3 425.2 1698.3 421.2Z" fill="#3c3d44"/><path d="M1714.5 419.1L1718.5 423.1 1714.5 427.1 1710.5 423.1Z" fill="#3c3d44"/><path d="M1726.7 420.4L1730.7 424.4 1726.7 428.4 1722.7 424.4Z" fill="#3c3d44"/><path d="M1738.9 421.2L1742.9 425.2 1738.9 429.2 1734.9 425.2Z" fill="#3c3d44"/><path d="M1751.1 421.8L1755.1 425.8 1751.1 429.8 1747.1 425.8Z" fill="#3c3d44"/><path d="M1763.3 421.8L1767.3 425.8 1763.3 429.8 1759.3 425.8Z" fill="#3c3d44"/><path d="M1775.5 421.8L1779.5 425.8 1775.5 429.8 1771.5 425.8Z" fill="#3c3d44"/><path d="M1787.7 421.8L1791.7 425.8 1787.7 429.8 1783.7 425.8Z" fill="#3c3d44"/><path d="M1799.9 421.8L1803.9 425.8 1799.9 429.8 1795.9 425.8Z" fill="#3c3d44"/><path d="M1812.1 421.8L1816.1 425.8 1812.1 429.8 1808.1 425.8Z" fill="#3c3d44"/></g>
<polyline points="482.7,425.6 494.9,425.6 507.1,425.6 519.3,425.6 531.5,425.6 543.7,424.8 555.9,424.0 568.1,422.6 580.2,421.2 592.4,419.2 604.6,417.1 616.8,414.8 629.0,412.5 641.2,409.7 653.4,406.9 665.6,403.4 677.8,400.0 690.0,396.2 702.2,392.5 714.4,387.5 726.6,382.5 738.8,377.2 751.0,371.9 763.2,365.6 775.4,356.9 787.6,348.5 799.8,344.6 812.0,340.8 824.2,335.3 836.4,329.8 848.6,325.0 860.8,321.2 873.0,315.6 885.2,313.8 897.4,308.8 909.6,305.0 921.8,302.5 933.9,303.0 946.1,311.2 958.3,312.5 970.5,291.2 982.7,289.5 994.9,292.7 1007.1,289.5 1019.3,286.4 1031.5,285.4 1043.7,285.4 1055.9,283.5 1068.1,281.0 1080.3,279.0 1092.5,279.4 1104.7,279.4 1116.9,275.6 1129.1,278.8 1141.3,281.0 1153.5,281.0 1165.7,283.0 1177.9,283.9 1190.1,285.4 1202.3,285.9 1214.5,288.4 1226.7,289.5 1238.9,292.0 1251.1,294.5 1263.2,295.6 1275.4,296.9 1287.6,298.1 1299.8,300.0 1312.0,301.0 1324.2,304.2 1336.4,306.0 1348.6,309.0 1360.8,312.1 1373.0,315.0 1385.2,318.1 1397.4,322.2 1409.6,326.7 1421.8,330.8 1434.0,334.5 1446.2,339.1 1458.4,343.9 1470.6,348.5 1482.8,353.9 1495.0,358.9 1507.2,362.6 1519.4,365.8 1531.6,364.2 1543.8,368.9 1556.0,372.6 1568.2,376.7 1580.4,380.9 1592.6,384.6 1604.8,389.2 1616.9,393.4 1629.1,398.6 1641.3,403.4 1653.5,408.1 1665.7,412.1 1677.9,415.9 1690.1,419.0 1702.3,421.5 1714.5,423.1 1726.7,424.4 1738.9,425.2 1751.1,425.8 1763.3,425.8 1775.5,425.8 1787.7,425.8 1799.9,425.8 1812.1,425.8" stroke="#8ee97a" stroke-width="2.0"/>
<g stroke="none"><rect x="478.6" y="421.5" width="8.2" height="8.2" fill="#8ee97a"/><rect x="490.8" y="421.5" width="8.2" height="8.2" fill="#8ee97a"/><rect x="503.0" y="421.5" width="8.2" height="8.2" fill="#8ee97a"/><rect x="515.2" y="421.5" width="8.2" height="8.2" fill="#8ee97a"/><rect x="527.4" y="421.5" width="8.2" height="8.2" fill="#8ee97a"/><rect x="539.6" y="420.7" width="8.2" height="8.2" fill="#8ee97a"/><rect x="551.8" y="419.9" width="8.2" height="8.2" fill="#8ee97a"/><rect x="564.0" y="418.5" width="8.2" height="8.2" fill="#8ee97a"/><rect x="576.1" y="417.1" width="8.2" height="8.2" fill="#8ee97a"/><rect x="588.3" y="415.1" width="8.2" height="8.2" fill="#8ee97a"/><rect x="600.5" y="413.0" width="8.2" height="8.2" fill="#8ee97a"/><rect x="612.7" y="410.7" width="8.2" height="8.2" fill="#8ee97a"/><rect x="624.9" y="408.4" width="8.2" height="8.2" fill="#8ee97a"/><rect x="637.1" y="405.6" width="8.2" height="8.2" fill="#8ee97a"/><rect x="649.3" y="402.8" width="8.2" height="8.2" fill="#8ee97a"/><rect x="661.5" y="399.3" width="8.2" height="8.2" fill="#8ee97a"/><rect x="673.7" y="395.9" width="8.2" height="8.2" fill="#8ee97a"/><rect x="685.9" y="392.1" width="8.2" height="8.2" fill="#8ee97a"/><rect x="698.1" y="388.4" width="8.2" height="8.2" fill="#8ee97a"/><rect x="710.3" y="383.4" width="8.2" height="8.2" fill="#8ee97a"/><rect x="722.5" y="378.4" width="8.2" height="8.2" fill="#8ee97a"/><rect x="734.7" y="373.1" width="8.2" height="8.2" fill="#8ee97a"/><rect x="746.9" y="367.8" width="8.2" height="8.2" fill="#8ee97a"/><rect x="759.1" y="361.5" width="8.2" height="8.2" fill="#8ee97a"/><rect x="771.3" y="352.8" width="8.2" height="8.2" fill="#8ee97a"/><rect x="783.5" y="344.4" width="8.2" height="8.2" fill="#8ee97a"/><rect x="795.7" y="340.5" width="8.2" height="8.2" fill="#8ee97a"/><rect x="807.9" y="336.6" width="8.2" height="8.2" fill="#8ee97a"/><rect x="820.1" y="331.2" width="8.2" height="8.2" fill="#8ee97a"/><rect x="832.3" y="325.6" width="8.2" height="8.2" fill="#8ee97a"/><rect x="844.5" y="320.9" width="8.2" height="8.2" fill="#8ee97a"/><rect x="856.7" y="317.1" width="8.2" height="8.2" fill="#8ee97a"/><rect x="868.9" y="311.5" width="8.2" height="8.2" fill="#8ee97a"/><rect x="881.1" y="309.6" width="8.2" height="8.2" fill="#8ee97a"/><rect x="893.3" y="304.6" width="8.2" height="8.2" fill="#8ee97a"/><rect x="905.5" y="300.9" width="8.2" height="8.2" fill="#8ee97a"/><rect x="917.6" y="298.4" width="8.2" height="8.2" fill="#8ee97a"/><rect x="929.8" y="298.9" width="8.2" height="8.2" fill="#8ee97a"/><rect x="942.0" y="307.1" width="8.2" height="8.2" fill="#8ee97a"/><rect x="954.2" y="308.4" width="8.2" height="8.2" fill="#8ee97a"/><rect x="966.4" y="287.1" width="8.2" height="8.2" fill="#8ee97a"/><rect x="978.6" y="285.4" width="8.2" height="8.2" fill="#8ee97a"/><rect x="990.8" y="288.6" width="8.2" height="8.2" fill="#8ee97a"/><rect x="1003.0" y="285.4" width="8.2" height="8.2" fill="#8ee97a"/><rect x="1015.2" y="282.3" width="8.2" height="8.2" fill="#8ee97a"/><rect x="1027.4" y="281.3" width="8.2" height="8.2" fill="#8ee97a"/><rect x="1039.6" y="281.3" width="8.2" height="8.2" fill="#8ee97a"/><rect x="1051.8" y="279.4" width="8.2" height="8.2" fill="#8ee97a"/><rect x="1064.0" y="276.9" width="8.2" height="8.2" fill="#8ee97a"/><rect x="1076.2" y="274.9" width="8.2" height="8.2" fill="#8ee97a"/><rect x="1088.4" y="275.3" width="8.2" height="8.2" fill="#8ee97a"/><rect x="1100.6" y="275.3" width="8.2" height="8.2" fill="#8ee97a"/><rect x="1112.8" y="271.5" width="8.2" height="8.2" fill="#8ee97a"/><rect x="1125.0" y="274.6" width="8.2" height="8.2" fill="#8ee97a"/><rect x="1137.2" y="276.9" width="8.2" height="8.2" fill="#8ee97a"/><rect x="1149.4" y="276.9" width="8.2" height="8.2" fill="#8ee97a"/><rect x="1161.6" y="278.9" width="8.2" height="8.2" fill="#8ee97a"/><rect x="1173.8" y="279.8" width="8.2" height="8.2" fill="#8ee97a"/><rect x="1186.0" y="281.3" width="8.2" height="8.2" fill="#8ee97a"/><rect x="1198.2" y="281.8" width="8.2" height="8.2" fill="#8ee97a"/><rect x="1210.4" y="284.3" width="8.2" height="8.2" fill="#8ee97a"/><rect x="1222.6" y="285.4" width="8.2" height="8.2" fill="#8ee97a"/><rect x="1234.8" y="287.9" width="8.2" height="8.2" fill="#8ee97a"/><rect x="1247.0" y="290.4" width="8.2" height="8.2" fill="#8ee97a"/><rect x="1259.2" y="291.5" width="8.2" height="8.2" fill="#8ee97a"/><rect x="1271.3" y="292.8" width="8.2" height="8.2" fill="#8ee97a"/><rect x="1283.5" y="294.0" width="8.2" height="8.2" fill="#8ee97a"/><rect x="1295.7" y="295.9" width="8.2" height="8.2" fill="#8ee97a"/><rect x="1307.9" y="296.9" width="8.2" height="8.2" fill="#8ee97a"/><rect x="1320.1" y="300.1" width="8.2" height="8.2" fill="#8ee97a"/><rect x="1332.3" y="301.9" width="8.2" height="8.2" fill="#8ee97a"/><rect x="1344.5" y="304.9" width="8.2" height="8.2" fill="#8ee97a"/><rect x="1356.7" y="308.0" width="8.2" height="8.2" fill="#8ee97a"/><rect x="1368.9" y="310.9" width="8.2" height="8.2" fill="#8ee97a"/><rect x="1381.1" y="314.0" width="8.2" height="8.2" fill="#8ee97a"/><rect x="1393.3" y="318.1" width="8.2" height="8.2" fill="#8ee97a"/><rect x="1405.5" y="322.6" width="8.2" height="8.2" fill="#8ee97a"/><rect x="1417.7" y="326.6" width="8.2" height="8.2" fill="#8ee97a"/><rect x="1429.9" y="330.4" width="8.2" height="8.2" fill="#8ee97a"/><rect x="1442.1" y="335.0" width="8.2" height="8.2" fill="#8ee97a"/><rect x="1454.3" y="339.8" width="8.2" height="8.2" fill="#8ee97a"/><rect x="1466.5" y="344.4" width="8.2" height="8.2" fill="#8ee97a"/><rect x="1478.7" y="349.8" width="8.2" height="8.2" fill="#8ee97a"/><rect x="1490.9" y="354.8" width="8.2" height="8.2" fill="#8ee97a"/><rect x="1503.1" y="358.5" width="8.2" height="8.2" fill="#8ee97a"/><rect x="1515.3" y="361.6" width="8.2" height="8.2" fill="#8ee97a"/><rect x="1527.5" y="360.1" width="8.2" height="8.2" fill="#8ee97a"/><rect x="1539.7" y="364.8" width="8.2" height="8.2" fill="#8ee97a"/><rect x="1551.9" y="368.5" width="8.2" height="8.2" fill="#8ee97a"/><rect x="1564.1" y="372.6" width="8.2" height="8.2" fill="#8ee97a"/><rect x="1576.3" y="376.8" width="8.2" height="8.2" fill="#8ee97a"/><rect x="1588.5" y="380.5" width="8.2" height="8.2" fill="#8ee97a"/><rect x="1600.7" y="385.1" width="8.2" height="8.2" fill="#8ee97a"/><rect x="1612.8" y="389.3" width="8.2" height="8.2" fill="#8ee97a"/><rect x="1625.0" y="394.5" width="8.2" height="8.2" fill="#8ee97a"/><rect x="1637.2" y="399.3" width="8.2" height="8.2" fill="#8ee97a"/><rect x="1649.4" y="404.0" width="8.2" height="8.2" fill="#8ee97a"/><rect x="1661.6" y="408.0" width="8.2" height="8.2" fill="#8ee97a"/><rect x="1673.8" y="411.8" width="8.2" height="8.2" fill="#8ee97a"/><rect x="1686.0" y="414.9" width="8.2" height="8.2" fill="#8ee97a"/><rect x="1698.2" y="417.4" width="8.2" height="8.2" fill="#8ee97a"/><rect x="1710.4" y="419.0" width="8.2" height="8.2" fill="#8ee97a"/><rect x="1722.6" y="420.3" width="8.2" height="8.2" fill="#8ee97a"/><rect x="1734.8" y="421.1" width="8.2" height="8.2" fill="#8ee97a"/><rect x="1747.0" y="421.6" width="8.2" height="8.2" fill="#8ee97a"/><rect x="1759.2" y="421.6" width="8.2" height="8.2" fill="#8ee97a"/><rect x="1771.4" y="421.6" width="8.2" height="8.2" fill="#8ee97a"/><rect x="1783.6" y="421.6" width="8.2" height="8.2" fill="#8ee97a"/><rect x="1795.8" y="421.6" width="8.2" height="8.2" fill="#8ee97a"/><rect x="1808.0" y="421.6" width="8.2" height="8.2" fill="#8ee97a"/></g>
<polyline points="482.7,425.6 494.9,425.6 507.1,425.6 519.3,425.6 531.5,425.6 543.7,424.8 555.9,424.0 568.1,422.6 580.2,421.2 592.4,419.1 604.6,416.9 616.8,414.4 629.0,411.9 641.2,408.8 653.4,405.6 665.6,401.9 677.8,398.1 690.0,394.1 702.2,390.0 714.4,384.7 726.6,379.4 738.8,374.4 751.0,369.4 763.2,364.4 775.4,359.4 787.6,355.3 799.8,351.2 812.0,347.2 824.2,343.1 836.4,337.8 848.6,332.5 860.8,328.8 873.0,325.0 885.2,321.2 897.4,317.5 909.6,314.7 921.8,311.9 933.9,309.7 946.1,307.5 958.3,302.8 970.5,298.1 982.7,297.5 994.9,296.9 1007.1,295.0 1019.3,293.1 1031.5,291.9 1043.7,290.6 1055.9,289.1 1068.1,287.5 1080.3,284.6 1092.5,284.1 1104.7,283.5 1116.9,282.2 1129.1,283.5 1141.3,283.5 1153.5,282.2 1165.7,281.5 1177.9,283.0 1190.1,283.5 1202.3,283.9 1214.5,285.4 1226.7,285.9 1238.9,287.1 1251.1,289.5 1263.2,290.8 1275.4,293.2 1287.6,296.9 1299.8,301.0 1312.0,305.0 1324.2,309.1 1336.4,312.2 1348.6,316.5 1360.8,322.5 1373.0,328.8 1385.2,274.2 1397.4,216.0 1409.6,227.9 1421.8,237.2 1434.0,247.0 1446.2,256.4 1458.4,265.8 1470.6,275.2 1482.8,284.0 1495.0,294.0 1507.2,301.6 1519.4,309.1 1531.6,304.4 1543.8,316.0 1556.0,327.2 1568.2,334.5 1580.4,378.4 1592.6,383.0 1604.8,358.0 1616.9,365.8 1629.1,375.2 1641.3,384.0 1653.5,394.0 1665.7,403.4 1677.9,411.2 1690.1,417.5 1702.3,421.2 1714.5,423.1 1726.7,424.4 1738.9,425.2 1751.1,425.8 1763.3,425.8 1775.5,425.8 1787.7,425.8 1799.9,425.8 1812.1,425.8" stroke="#f59b50" stroke-width="2.0"/>
<g stroke="none"><path d="M482.7 421.8L486.5 429.4 478.9 429.4Z" fill="#f59b50"/><path d="M494.9 421.8L498.7 429.4 491.1 429.4Z" fill="#f59b50"/><path d="M507.1 421.8L510.9 429.4 503.3 429.4Z" fill="#f59b50"/><path d="M519.3 421.8L523.1 429.4 515.5 429.4Z" fill="#f59b50"/><path d="M531.5 421.8L535.3 429.4 527.7 429.4Z" fill="#f59b50"/><path d="M543.7 421.0L547.5 428.6 539.9 428.6Z" fill="#f59b50"/><path d="M555.9 420.2L559.7 427.8 552.1 427.8Z" fill="#f59b50"/><path d="M568.1 418.8L571.9 426.4 564.3 426.4Z" fill="#f59b50"/><path d="M580.2 417.4L584.0 425.1 576.4 425.1Z" fill="#f59b50"/><path d="M592.4 415.3L596.2 422.9 588.6 422.9Z" fill="#f59b50"/><path d="M604.6 413.1L608.4 420.7 600.8 420.7Z" fill="#f59b50"/><path d="M616.8 410.6L620.6 418.2 613.0 418.2Z" fill="#f59b50"/><path d="M629.0 408.1L632.8 415.7 625.2 415.7Z" fill="#f59b50"/><path d="M641.2 404.9L645.0 412.6 637.4 412.6Z" fill="#f59b50"/><path d="M653.4 401.8L657.2 409.4 649.6 409.4Z" fill="#f59b50"/><path d="M665.6 398.1L669.4 405.7 661.8 405.7Z" fill="#f59b50"/><path d="M677.8 394.3L681.6 401.9 674.0 401.9Z" fill="#f59b50"/><path d="M690.0 390.3L693.8 397.9 686.2 397.9Z" fill="#f59b50"/><path d="M702.2 386.2L706.0 393.8 698.4 393.8Z" fill="#f59b50"/><path d="M714.4 380.9L718.2 388.5 710.6 388.5Z" fill="#f59b50"/><path d="M726.6 375.6L730.4 383.2 722.8 383.2Z" fill="#f59b50"/><path d="M738.8 370.6L742.6 378.2 735.0 378.2Z" fill="#f59b50"/><path d="M751.0 365.6L754.8 373.2 747.2 373.2Z" fill="#f59b50"/><path d="M763.2 360.6L767.0 368.2 759.4 368.2Z" fill="#f59b50"/><path d="M775.4 355.6L779.2 363.2 771.6 363.2Z" fill="#f59b50"/><path d="M787.6 351.5L791.4 359.1 783.8 359.1Z" fill="#f59b50"/><path d="M799.8 347.4L803.6 355.1 796.0 355.1Z" fill="#f59b50"/><path d="M812.0 343.4L815.8 351.0 808.2 351.0Z" fill="#f59b50"/><path d="M824.2 339.3L828.0 346.9 820.4 346.9Z" fill="#f59b50"/><path d="M836.4 334.0L840.2 341.6 832.6 341.6Z" fill="#f59b50"/><path d="M848.6 328.7L852.4 336.3 844.8 336.3Z" fill="#f59b50"/><path d="M860.8 324.9L864.6 332.6 857.0 332.6Z" fill="#f59b50"/><path d="M873.0 321.2L876.8 328.8 869.2 328.8Z" fill="#f59b50"/><path d="M885.2 317.4L889.0 325.1 881.4 325.1Z" fill="#f59b50"/><path d="M897.4 313.7L901.2 321.3 893.6 321.3Z" fill="#f59b50"/><path d="M909.6 310.9L913.4 318.5 905.8 318.5Z" fill="#f59b50"/><path d="M921.8 308.1L925.5 315.7 918.0 315.7Z" fill="#f59b50"/><path d="M933.9 305.9L937.7 313.5 930.1 313.5Z" fill="#f59b50"/><path d="M946.1 303.7L949.9 311.3 942.3 311.3Z" fill="#f59b50"/><path d="M958.3 299.0L962.1 306.6 954.5 306.6Z" fill="#f59b50"/><path d="M970.5 294.3L974.3 301.9 966.7 301.9Z" fill="#f59b50"/><path d="M982.7 293.7L986.5 301.3 978.9 301.3Z" fill="#f59b50"/><path d="M994.9 293.1L998.7 300.7 991.1 300.7Z" fill="#f59b50"/><path d="M1007.1 291.2L1010.9 298.8 1003.3 298.8Z" fill="#f59b50"/><path d="M1019.3 289.3L1023.1 296.9 1015.5 296.9Z" fill="#f59b50"/><path d="M1031.5 288.1L1035.3 295.7 1027.7 295.7Z" fill="#f59b50"/><path d="M1043.7 286.8L1047.5 294.4 1039.9 294.4Z" fill="#f59b50"/><path d="M1055.9 285.3L1059.7 292.9 1052.1 292.9Z" fill="#f59b50"/><path d="M1068.1 283.7L1071.9 291.3 1064.3 291.3Z" fill="#f59b50"/><path d="M1080.3 280.8L1084.1 288.4 1076.5 288.4Z" fill="#f59b50"/><path d="M1092.5 280.3L1096.3 287.9 1088.7 287.9Z" fill="#f59b50"/><path d="M1104.7 279.7L1108.5 287.3 1100.9 287.3Z" fill="#f59b50"/><path d="M1116.9 278.4L1120.7 286.1 1113.1 286.1Z" fill="#f59b50"/><path d="M1129.1 279.7L1132.9 287.3 1125.3 287.3Z" fill="#f59b50"/><path d="M1141.3 279.7L1145.1 287.3 1137.5 287.3Z" fill="#f59b50"/><path d="M1153.5 278.4L1157.3 286.1 1149.7 286.1Z" fill="#f59b50"/><path d="M1165.7 277.7L1169.5 285.3 1161.9 285.3Z" fill="#f59b50"/><path d="M1177.9 279.2L1181.7 286.8 1174.1 286.8Z" fill="#f59b50"/><path d="M1190.1 279.7L1193.9 287.3 1186.3 287.3Z" fill="#f59b50"/><path d="M1202.3 280.1L1206.1 287.7 1198.5 287.7Z" fill="#f59b50"/><path d="M1214.5 281.6L1218.3 289.2 1210.7 289.2Z" fill="#f59b50"/><path d="M1226.7 282.1L1230.5 289.7 1222.9 289.7Z" fill="#f59b50"/><path d="M1238.9 283.3L1242.7 290.9 1235.1 290.9Z" fill="#f59b50"/><path d="M1251.1 285.7L1254.9 293.3 1247.3 293.3Z" fill="#f59b50"/><path d="M1263.2 286.9L1267.0 294.6 1259.5 294.6Z" fill="#f59b50"/><path d="M1275.4 289.4L1279.2 297.1 1271.6 297.1Z" fill="#f59b50"/><path d="M1287.6 293.1L1291.4 300.7 1283.8 300.7Z" fill="#f59b50"/><path d="M1299.8 297.2L1303.6 304.8 1296.0 304.8Z" fill="#f59b50"/><path d="M1312.0 301.2L1315.8 308.8 1308.2 308.8Z" fill="#f59b50"/><path d="M1324.2 305.3L1328.0 312.9 1320.4 312.9Z" fill="#f59b50"/><path d="M1336.4 308.4L1340.2 316.1 1332.6 316.1Z" fill="#f59b50"/><path d="M1348.6 312.7L1352.4 320.3 1344.8 320.3Z" fill="#f59b50"/><path d="M1360.8 318.7L1364.6 326.3 1357.0 326.3Z" fill="#f59b50"/><path d="M1373.0 324.9L1376.8 332.6 1369.2 332.6Z" fill="#f59b50"/><path d="M1385.2 270.4L1389.0 278.1 1381.4 278.1Z" fill="#f59b50"/><path d="M1397.4 212.2L1401.2 219.8 1393.6 219.8Z" fill="#f59b50"/><path d="M1409.6 224.1L1413.4 231.7 1405.8 231.7Z" fill="#f59b50"/><path d="M1421.8 233.4L1425.6 241.1 1418.0 241.1Z" fill="#f59b50"/><path d="M1434.0 243.2L1437.8 250.8 1430.2 250.8Z" fill="#f59b50"/><path d="M1446.2 252.6L1450.0 260.2 1442.4 260.2Z" fill="#f59b50"/><path d="M1458.4 261.9L1462.2 269.6 1454.6 269.6Z" fill="#f59b50"/><path d="M1470.6 271.4L1474.4 279.0 1466.8 279.0Z" fill="#f59b50"/><path d="M1482.8 280.2L1486.6 287.8 1479.0 287.8Z" fill="#f59b50"/><path d="M1495.0 290.2L1498.8 297.8 1491.2 297.8Z" fill="#f59b50"/><path d="M1507.2 297.8L1511.0 305.4 1503.4 305.4Z" fill="#f59b50"/><path d="M1519.4 305.3L1523.2 312.9 1515.6 312.9Z" fill="#f59b50"/><path d="M1531.6 300.6L1535.4 308.2 1527.8 308.2Z" fill="#f59b50"/><path d="M1543.8 312.2L1547.6 319.8 1540.0 319.8Z" fill="#f59b50"/><path d="M1556.0 323.4L1559.8 331.1 1552.2 331.1Z" fill="#f59b50"/><path d="M1568.2 330.7L1572.0 338.3 1564.4 338.3Z" fill="#f59b50"/><path d="M1580.4 374.6L1584.2 382.2 1576.6 382.2Z" fill="#f59b50"/><path d="M1592.6 379.2L1596.4 386.8 1588.8 386.8Z" fill="#f59b50"/><path d="M1604.8 354.2L1608.5 361.8 1601.0 361.8Z" fill="#f59b50"/><path d="M1616.9 361.9L1620.7 369.6 1613.1 369.6Z" fill="#f59b50"/><path d="M1629.1 371.4L1632.9 379.0 1625.3 379.0Z" fill="#f59b50"/><path d="M1641.3 380.2L1645.1 387.8 1637.5 387.8Z" fill="#f59b50"/><path d="M1653.5 390.2L1657.3 397.8 1649.7 397.8Z" fill="#f59b50"/><path d="M1665.7 399.6L1669.5 407.2 1661.9 407.2Z" fill="#f59b50"/><path d="M1677.9 407.4L1681.7 415.1 1674.1 415.1Z" fill="#f59b50"/><path d="M1690.1 413.7L1693.9 421.3 1686.3 421.3Z" fill="#f59b50"/><path d="M1702.3 417.4L1706.1 425.1 1698.5 425.1Z" fill="#f59b50"/><path d="M1714.5 419.3L1718.3 426.9 1710.7 426.9Z" fill="#f59b50"/><path d="M1726.7 420.6L1730.5 428.2 1722.9 428.2Z" fill="#f59b50"/><path d="M1738.9 421.4L1742.7 429.0 1735.1 429.0Z" fill="#f59b50"/><path d="M1751.1 421.9L1754.9 429.6 1747.3 429.6Z" fill="#f59b50"/><path d="M1763.3 421.9L1767.1 429.6 1759.5 429.6Z" fill="#f59b50"/><path d="M1775.5 421.9L1779.3 429.6 1771.7 429.6Z" fill="#f59b50"/><path d="M1787.7 421.9L1791.5 429.6 1783.9 429.6Z" fill="#f59b50"/><path d="M1799.9 421.9L1803.7 429.6 1796.1 429.6Z" fill="#f59b50"/><path d="M1812.1 421.9L1815.9 429.6 1808.3 429.6Z" fill="#f59b50"/></g>
<polyline points="482.7,425.6 494.9,425.6 507.1,425.6 519.3,425.6 531.5,425.6 543.7,424.7 555.9,423.8 568.1,422.2 580.2,420.6 592.4,418.2 604.6,415.8 616.8,413.0 629.0,410.0 641.2,406.2 653.4,403.2 665.6,399.0 677.8,394.9 690.0,390.8 702.2,386.9 714.4,382.4 726.6,376.2 738.8,370.9 751.0,366.2 763.2,361.9 775.4,356.2 787.6,352.4 799.8,348.5 812.0,344.6 824.2,340.8 836.4,335.3 848.6,329.8 860.8,326.1 873.0,322.5 885.2,319.1 897.4,315.6 909.6,312.7 921.8,310.9 933.9,309.9 946.1,307.9 958.3,305.5 970.5,300.0 982.7,298.6 994.9,299.4 1007.1,296.9 1019.3,295.1 1031.5,294.5 1043.7,293.2 1055.9,292.0 1068.1,290.8 1080.3,290.2 1092.5,289.5 1104.7,288.4 1116.9,282.2 1129.1,285.9 1141.3,287.1 1153.5,284.6 1165.7,290.8 1177.9,293.2 1190.1,295.6 1202.3,300.6 1214.5,303.5 1226.7,305.0 1238.9,309.8 1251.1,314.8 1263.2,321.2 1275.4,167.1 1287.6,178.8 1299.8,189.1 1312.0,196.0 1324.2,205.2 1336.4,210.6 1348.6,218.9 1360.8,225.4 1373.0,235.9 1385.2,242.0 1397.4,248.9 1409.6,256.4 1421.8,264.8 1434.0,272.6 1446.2,279.9 1458.4,288.4 1470.6,296.5 1482.8,303.2 1495.0,311.2 1507.2,318.5 1519.4,327.5 1531.6,324.4 1543.8,382.5 1556.0,340.8 1568.2,349.5 1580.4,348.5 1592.6,358.0 1604.8,367.4 1616.9,375.2 1629.1,394.0 1641.3,400.9 1653.5,403.4 1665.7,408.1 1677.9,412.1 1690.1,417.5 1702.3,421.2 1714.5,423.1 1726.7,424.4 1738.9,425.2 1751.1,425.8 1763.3,425.8 1775.5,425.8 1787.7,425.8 1799.9,425.8 1812.1,425.8" stroke="#7b80e8" stroke-width="2.0"/>
<g stroke="none"><path d="M478.9 421.8L486.5 421.8 482.7 429.4Z" fill="#7b80e8"/><path d="M491.1 421.8L498.7 421.8 494.9 429.4Z" fill="#7b80e8"/><path d="M503.3 421.8L510.9 421.8 507.1 429.4Z" fill="#7b80e8"/><path d="M515.5 421.8L523.1 421.8 519.3 429.4Z" fill="#7b80e8"/><path d="M527.7 421.8L535.3 421.8 531.5 429.4Z" fill="#7b80e8"/><path d="M539.9 420.9L547.5 420.9 543.7 428.5Z" fill="#7b80e8"/><path d="M552.1 419.9L559.7 419.9 555.9 427.6Z" fill="#7b80e8"/><path d="M564.3 418.4L571.9 418.4 568.1 426.0Z" fill="#7b80e8"/><path d="M576.4 416.8L584.0 416.8 580.2 424.4Z" fill="#7b80e8"/><path d="M588.6 414.4L596.2 414.4 592.4 422.0Z" fill="#7b80e8"/><path d="M600.8 411.9L608.4 411.9 604.6 419.6Z" fill="#7b80e8"/><path d="M613.0 409.2L620.6 409.2 616.8 416.8Z" fill="#7b80e8"/><path d="M625.2 406.2L632.8 406.2 629.0 413.8Z" fill="#7b80e8"/><path d="M637.4 402.4L645.0 402.4 641.2 410.1Z" fill="#7b80e8"/><path d="M649.6 399.4L657.2 399.4 653.4 407.1Z" fill="#7b80e8"/><path d="M661.8 395.2L669.4 395.2 665.6 402.8Z" fill="#7b80e8"/><path d="M674.0 391.1L681.6 391.1 677.8 398.7Z" fill="#7b80e8"/><path d="M686.2 386.9L693.8 386.9 690.0 394.6Z" fill="#7b80e8"/><path d="M698.4 383.1L706.0 383.1 702.2 390.7Z" fill="#7b80e8"/><path d="M710.6 378.6L718.2 378.6 714.4 386.2Z" fill="#7b80e8"/><path d="M722.8 372.4L730.4 372.4 726.6 380.1Z" fill="#7b80e8"/><path d="M735.0 367.1L742.6 367.1 738.8 374.7Z" fill="#7b80e8"/><path d="M747.2 362.4L754.8 362.4 751.0 370.1Z" fill="#7b80e8"/><path d="M759.4 358.1L767.0 358.1 763.2 365.7Z" fill="#7b80e8"/><path d="M771.6 352.4L779.2 352.4 775.4 360.1Z" fill="#7b80e8"/><path d="M783.8 348.6L791.4 348.6 787.6 356.2Z" fill="#7b80e8"/><path d="M796.0 344.7L803.6 344.7 799.8 352.3Z" fill="#7b80e8"/><path d="M808.2 340.8L815.8 340.8 812.0 348.4Z" fill="#7b80e8"/><path d="M820.4 336.9L828.0 336.9 824.2 344.6Z" fill="#7b80e8"/><path d="M832.6 331.5L840.2 331.5 836.4 339.1Z" fill="#7b80e8"/><path d="M844.8 325.9L852.4 325.9 848.6 333.6Z" fill="#7b80e8"/><path d="M857.0 322.3L864.6 322.3 860.8 329.9Z" fill="#7b80e8"/><path d="M869.2 318.7L876.8 318.7 873.0 326.3Z" fill="#7b80e8"/><path d="M881.4 315.3L889.0 315.3 885.2 322.9Z" fill="#7b80e8"/><path d="M893.6 311.8L901.2 311.8 897.4 319.4Z" fill="#7b80e8"/><path d="M905.8 308.9L913.4 308.9 909.6 316.5Z" fill="#7b80e8"/><path d="M918.0 307.1L925.5 307.1 921.8 314.7Z" fill="#7b80e8"/><path d="M930.1 306.1L937.7 306.1 933.9 313.7Z" fill="#7b80e8"/><path d="M942.3 304.1L949.9 304.1 946.1 311.7Z" fill="#7b80e8"/><path d="M954.5 301.7L962.1 301.7 958.3 309.3Z" fill="#7b80e8"/><path d="M966.7 296.2L974.3 296.2 970.5 303.8Z" fill="#7b80e8"/><path d="M978.9 294.8L986.5 294.8 982.7 302.4Z" fill="#7b80e8"/><path d="M991.1 295.6L998.7 295.6 994.9 303.2Z" fill="#7b80e8"/><path d="M1003.3 293.1L1010.9 293.1 1007.1 300.7Z" fill="#7b80e8"/><path d="M1015.5 291.3L1023.1 291.3 1019.3 298.9Z" fill="#7b80e8"/><path d="M1027.7 290.7L1035.3 290.7 1031.5 298.3Z" fill="#7b80e8"/><path d="M1039.9 289.4L1047.5 289.4 1043.7 297.1Z" fill="#7b80e8"/><path d="M1052.1 288.2L1059.7 288.2 1055.9 295.8Z" fill="#7b80e8"/><path d="M1064.3 286.9L1071.9 286.9 1068.1 294.6Z" fill="#7b80e8"/><path d="M1076.5 286.4L1084.1 286.4 1080.3 294.0Z" fill="#7b80e8"/><path d="M1088.7 285.7L1096.3 285.7 1092.5 293.3Z" fill="#7b80e8"/><path d="M1100.9 284.6L1108.5 284.6 1104.7 292.2Z" fill="#7b80e8"/><path d="M1113.1 278.4L1120.7 278.4 1116.9 286.1Z" fill="#7b80e8"/><path d="M1125.3 282.1L1132.9 282.1 1129.1 289.7Z" fill="#7b80e8"/><path d="M1137.5 283.3L1145.1 283.3 1141.3 290.9Z" fill="#7b80e8"/><path d="M1149.7 280.8L1157.3 280.8 1153.5 288.4Z" fill="#7b80e8"/><path d="M1161.9 286.9L1169.5 286.9 1165.7 294.6Z" fill="#7b80e8"/><path d="M1174.1 289.4L1181.7 289.4 1177.9 297.1Z" fill="#7b80e8"/><path d="M1186.3 291.8L1193.9 291.8 1190.1 299.4Z" fill="#7b80e8"/><path d="M1198.5 296.8L1206.1 296.8 1202.3 304.4Z" fill="#7b80e8"/><path d="M1210.7 299.7L1218.3 299.7 1214.5 307.3Z" fill="#7b80e8"/><path d="M1222.9 301.2L1230.5 301.2 1226.7 308.8Z" fill="#7b80e8"/><path d="M1235.1 305.9L1242.7 305.9 1238.9 313.6Z" fill="#7b80e8"/><path d="M1247.3 310.9L1254.9 310.9 1251.1 318.6Z" fill="#7b80e8"/><path d="M1259.5 317.4L1267.0 317.4 1263.2 325.1Z" fill="#7b80e8"/><path d="M1271.6 163.3L1279.2 163.3 1275.4 170.9Z" fill="#7b80e8"/><path d="M1283.8 174.9L1291.4 174.9 1287.6 182.6Z" fill="#7b80e8"/><path d="M1296.0 185.3L1303.6 185.3 1299.8 192.9Z" fill="#7b80e8"/><path d="M1308.2 192.2L1315.8 192.2 1312.0 199.8Z" fill="#7b80e8"/><path d="M1320.4 201.4L1328.0 201.4 1324.2 209.0Z" fill="#7b80e8"/><path d="M1332.6 206.8L1340.2 206.8 1336.4 214.4Z" fill="#7b80e8"/><path d="M1344.8 215.1L1352.4 215.1 1348.6 222.7Z" fill="#7b80e8"/><path d="M1357.0 221.6L1364.6 221.6 1360.8 229.2Z" fill="#7b80e8"/><path d="M1369.2 232.1L1376.8 232.1 1373.0 239.7Z" fill="#7b80e8"/><path d="M1381.4 238.2L1389.0 238.2 1385.2 245.8Z" fill="#7b80e8"/><path d="M1393.6 245.1L1401.2 245.1 1397.4 252.7Z" fill="#7b80e8"/><path d="M1405.8 252.6L1413.4 252.6 1409.6 260.2Z" fill="#7b80e8"/><path d="M1418.0 260.9L1425.6 260.9 1421.8 268.6Z" fill="#7b80e8"/><path d="M1430.2 268.8L1437.8 268.8 1434.0 276.4Z" fill="#7b80e8"/><path d="M1442.4 276.1L1450.0 276.1 1446.2 283.7Z" fill="#7b80e8"/><path d="M1454.6 284.6L1462.2 284.6 1458.4 292.2Z" fill="#7b80e8"/><path d="M1466.8 292.7L1474.4 292.7 1470.6 300.3Z" fill="#7b80e8"/><path d="M1479.0 299.4L1486.6 299.4 1482.8 307.1Z" fill="#7b80e8"/><path d="M1491.2 307.4L1498.8 307.4 1495.0 315.1Z" fill="#7b80e8"/><path d="M1503.4 314.7L1511.0 314.7 1507.2 322.3Z" fill="#7b80e8"/><path d="M1515.6 323.7L1523.2 323.7 1519.4 331.3Z" fill="#7b80e8"/><path d="M1527.8 320.6L1535.4 320.6 1531.6 328.2Z" fill="#7b80e8"/><path d="M1540.0 378.7L1547.6 378.7 1543.8 386.3Z" fill="#7b80e8"/><path d="M1552.2 336.9L1559.8 336.9 1556.0 344.6Z" fill="#7b80e8"/><path d="M1564.4 345.7L1572.0 345.7 1568.2 353.3Z" fill="#7b80e8"/><path d="M1576.6 344.7L1584.2 344.7 1580.4 352.3Z" fill="#7b80e8"/><path d="M1588.8 354.2L1596.4 354.2 1592.6 361.8Z" fill="#7b80e8"/><path d="M1601.0 363.6L1608.5 363.6 1604.8 371.2Z" fill="#7b80e8"/><path d="M1613.1 371.4L1620.7 371.4 1616.9 379.0Z" fill="#7b80e8"/><path d="M1625.3 390.2L1632.9 390.2 1629.1 397.8Z" fill="#7b80e8"/><path d="M1637.5 397.1L1645.1 397.1 1641.3 404.7Z" fill="#7b80e8"/><path d="M1649.7 399.6L1657.3 399.6 1653.5 407.2Z" fill="#7b80e8"/><path d="M1661.9 404.3L1669.5 404.3 1665.7 411.9Z" fill="#7b80e8"/><path d="M1674.1 408.3L1681.7 408.3 1677.9 415.9Z" fill="#7b80e8"/><path d="M1686.3 413.7L1693.9 413.7 1690.1 421.3Z" fill="#7b80e8"/><path d="M1698.5 417.4L1706.1 417.4 1702.3 425.1Z" fill="#7b80e8"/><path d="M1710.7 419.3L1718.3 419.3 1714.5 426.9Z" fill="#7b80e8"/><path d="M1722.9 420.6L1730.5 420.6 1726.7 428.2Z" fill="#7b80e8"/><path d="M1735.1 421.4L1742.7 421.4 1738.9 429.0Z" fill="#7b80e8"/><path d="M1747.3 421.9L1754.9 421.9 1751.1 429.6Z" fill="#7b80e8"/><path d="M1759.5 421.9L1767.1 421.9 1763.3 429.6Z" fill="#7b80e8"/><path d="M1771.7 421.9L1779.3 421.9 1775.5 429.6Z" fill="#7b80e8"/><path d="M1783.9 421.9L1791.5 421.9 1787.7 429.6Z" fill="#7b80e8"/><path d="M1796.1 421.9L1803.7 421.9 1799.9 429.6Z" fill="#7b80e8"/><path d="M1808.3 421.9L1815.9 421.9 1812.1 429.6Z" fill="#7b80e8"/></g>
<polyline points="482.7,425.5 494.9,425.5 507.1,425.5 519.3,425.5 531.5,425.5 543.7,425.1 555.9,424.1 568.1,423.0 580.2,422.0 592.4,420.5 604.6,418.5 616.8,416.7 629.0,414.8 641.2,412.2 653.4,409.5 665.6,406.4 677.8,403.9 690.0,400.5 702.2,398.0 714.4,394.9 726.6,391.7 738.8,388.6 751.0,385.5 763.2,383.0 775.4,379.9 787.6,376.7 799.8,374.9 812.0,373.1 824.2,370.2 836.4,367.4 848.6,364.2 860.8,361.1 873.0,359.1 885.2,357.0 897.4,352.6 909.6,350.8 921.8,349.5 933.9,349.5 946.1,347.6 958.3,346.4 970.5,341.4 982.7,340.1 994.9,342.2 1007.1,341.4 1019.3,340.8 1031.5,340.8 1043.7,340.8 1055.9,341.4 1068.1,342.2 1080.3,345.4 1092.5,346.4 1104.7,347.0 1116.9,325.0 1129.1,343.2 1141.3,183.2 1153.5,173.9 1165.7,180.0 1177.9,183.8 1190.1,185.6 1202.3,187.4 1214.5,191.5 1226.7,193.0 1238.9,197.1 1251.1,200.4 1263.2,205.2 1275.4,212.1 1287.6,215.6 1299.8,219.5 1312.0,223.0 1324.2,226.8 1336.4,230.1 1348.6,234.8 1360.8,239.0 1373.0,244.0 1385.2,249.4 1397.4,254.8 1409.6,260.1 1421.8,264.8 1434.0,270.5 1446.2,276.8 1458.4,283.0 1470.6,290.9 1482.8,298.6 1495.0,305.0 1507.2,398.6 1519.4,397.7 1531.6,396.5 1543.8,397.7 1556.0,398.6 1568.2,398.6 1580.4,396.5 1592.6,397.7 1604.8,399.6 1616.9,400.9 1629.1,405.0 1641.3,405.9 1653.5,389.2 1665.7,395.5 1677.9,403.4 1690.1,415.9 1702.3,419.0 1714.5,422.1 1726.7,423.8 1738.9,424.6 1751.1,425.8 1763.3,425.8 1775.5,425.8 1787.7,425.8 1799.9,425.8 1812.1,425.8" stroke="#ee4f7b" stroke-width="2.0"/>
<g stroke="none"><path d="M482.7 420.6C488.8 423.0 488.8 427.9 482.7 430.4C476.6 427.9 476.6 423.0 482.7 420.6Z" fill="#ee4f7b"/><path d="M494.9 420.6C501.0 423.0 501.0 427.9 494.9 430.4C488.7 427.9 488.7 423.0 494.9 420.6Z" fill="#ee4f7b"/><path d="M507.1 420.6C513.2 423.0 513.2 427.9 507.1 430.4C500.9 427.9 500.9 423.0 507.1 420.6Z" fill="#ee4f7b"/><path d="M519.3 420.6C525.4 423.0 525.4 427.9 519.3 430.4C513.1 427.9 513.1 423.0 519.3 420.6Z" fill="#ee4f7b"/><path d="M531.5 420.6C537.6 423.0 537.6 427.9 531.5 430.4C525.3 427.9 525.3 423.0 531.5 420.6Z" fill="#ee4f7b"/><path d="M543.7 420.2C549.8 422.7 549.8 427.6 543.7 430.0C537.5 427.6 537.5 422.7 543.7 420.2Z" fill="#ee4f7b"/><path d="M555.9 419.2C562.0 421.7 562.0 426.6 555.9 429.0C549.7 426.6 549.7 421.7 555.9 419.2Z" fill="#ee4f7b"/><path d="M568.1 418.1C574.2 420.5 574.2 425.4 568.1 427.9C561.9 425.4 561.9 420.5 568.1 418.1Z" fill="#ee4f7b"/><path d="M580.2 417.1C586.4 419.6 586.4 424.4 580.2 426.9C574.1 424.4 574.1 419.6 580.2 417.1Z" fill="#ee4f7b"/><path d="M592.4 415.6C598.6 418.0 598.6 422.9 592.4 425.4C586.3 422.9 586.3 418.0 592.4 415.6Z" fill="#ee4f7b"/><path d="M604.6 413.6C610.8 416.1 610.8 420.9 604.6 423.4C598.5 420.9 598.5 416.1 604.6 413.6Z" fill="#ee4f7b"/><path d="M616.8 411.8C623.0 414.3 623.0 419.2 616.8 421.6C610.7 419.2 610.7 414.3 616.8 411.8Z" fill="#ee4f7b"/><path d="M629.0 409.9C635.2 412.3 635.2 417.2 629.0 419.6C622.9 417.2 622.9 412.3 629.0 409.9Z" fill="#ee4f7b"/><path d="M641.2 407.4C647.4 409.8 647.4 414.7 641.2 417.1C635.1 414.7 635.1 409.8 641.2 407.4Z" fill="#ee4f7b"/><path d="M653.4 404.6C659.6 407.1 659.6 411.9 653.4 414.4C647.3 411.9 647.3 407.1 653.4 404.6Z" fill="#ee4f7b"/><path d="M665.6 401.5C671.7 403.9 671.7 408.8 665.6 411.3C659.5 408.8 659.5 403.9 665.6 401.5Z" fill="#ee4f7b"/><path d="M677.8 399.0C683.9 401.4 683.9 406.3 677.8 408.8C671.7 406.3 671.7 401.4 677.8 399.0Z" fill="#ee4f7b"/><path d="M690.0 395.6C696.1 398.0 696.1 402.9 690.0 405.4C683.9 402.9 683.9 398.0 690.0 395.6Z" fill="#ee4f7b"/><path d="M702.2 393.1C708.3 395.5 708.3 400.4 702.2 402.9C696.1 400.4 696.1 395.5 702.2 393.1Z" fill="#ee4f7b"/><path d="M714.4 390.0C720.5 392.4 720.5 397.3 714.4 399.8C708.3 397.3 708.3 392.4 714.4 390.0Z" fill="#ee4f7b"/><path d="M726.6 386.8C732.7 389.3 732.7 394.2 726.6 396.6C720.5 394.2 720.5 389.3 726.6 386.8Z" fill="#ee4f7b"/><path d="M738.8 383.7C744.9 386.2 744.9 391.1 738.8 393.5C732.7 391.1 732.7 386.2 738.8 383.7Z" fill="#ee4f7b"/><path d="M751.0 380.6C757.1 383.0 757.1 387.9 751.0 390.4C744.9 387.9 744.9 383.0 751.0 380.6Z" fill="#ee4f7b"/><path d="M763.2 378.1C769.3 380.5 769.3 385.4 763.2 387.9C757.1 385.4 757.1 380.5 763.2 378.1Z" fill="#ee4f7b"/><path d="M775.4 375.0C781.5 377.4 781.5 382.3 775.4 384.8C769.3 382.3 769.3 377.4 775.4 375.0Z" fill="#ee4f7b"/><path d="M787.6 371.8C793.7 374.3 793.7 379.2 787.6 381.6C781.5 379.2 781.5 374.3 787.6 371.8Z" fill="#ee4f7b"/><path d="M799.8 370.0C805.9 372.5 805.9 377.4 799.8 379.8C793.7 377.4 793.7 372.5 799.8 370.0Z" fill="#ee4f7b"/><path d="M812.0 368.2C818.1 370.7 818.1 375.6 812.0 378.0C805.9 375.6 805.9 370.7 812.0 368.2Z" fill="#ee4f7b"/><path d="M824.2 365.3C830.3 367.8 830.3 372.7 824.2 375.1C818.1 372.7 818.1 367.8 824.2 365.3Z" fill="#ee4f7b"/><path d="M836.4 362.5C842.5 364.9 842.5 369.8 836.4 372.3C830.2 369.8 830.2 364.9 836.4 362.5Z" fill="#ee4f7b"/><path d="M848.6 359.3C854.7 361.8 854.7 366.7 848.6 369.1C842.4 366.7 842.4 361.8 848.6 359.3Z" fill="#ee4f7b"/><path d="M860.8 356.2C866.9 358.7 866.9 363.6 860.8 366.0C854.6 363.6 854.6 358.7 860.8 356.2Z" fill="#ee4f7b"/><path d="M873.0 354.2C879.1 356.6 879.1 361.5 873.0 364.0C866.8 361.5 866.8 356.6 873.0 354.2Z" fill="#ee4f7b"/><path d="M885.2 352.1C891.3 354.6 891.3 359.4 885.2 361.9C879.0 359.4 879.0 354.6 885.2 352.1Z" fill="#ee4f7b"/><path d="M897.4 347.7C903.5 350.2 903.5 355.1 897.4 357.5C891.2 355.1 891.2 350.2 897.4 347.7Z" fill="#ee4f7b"/><path d="M909.6 345.9C915.7 348.3 915.7 353.2 909.6 355.6C903.4 353.2 903.4 348.3 909.6 345.9Z" fill="#ee4f7b"/><path d="M921.8 344.6C927.9 347.1 927.9 351.9 921.8 354.4C915.6 351.9 915.6 347.1 921.8 344.6Z" fill="#ee4f7b"/><path d="M933.9 344.6C940.1 347.1 940.1 351.9 933.9 354.4C927.8 351.9 927.8 347.1 933.9 344.6Z" fill="#ee4f7b"/><path d="M946.1 342.7C952.3 345.2 952.3 350.1 946.1 352.5C940.0 350.1 940.0 345.2 946.1 342.7Z" fill="#ee4f7b"/><path d="M958.3 341.5C964.5 343.9 964.5 348.8 958.3 351.3C952.2 348.8 952.2 343.9 958.3 341.5Z" fill="#ee4f7b"/><path d="M970.5 336.5C976.7 338.9 976.7 343.8 970.5 346.3C964.4 343.8 964.4 338.9 970.5 336.5Z" fill="#ee4f7b"/><path d="M982.7 335.2C988.9 337.7 988.9 342.6 982.7 345.0C976.6 342.6 976.6 337.7 982.7 335.2Z" fill="#ee4f7b"/><path d="M994.9 337.4C1001.1 339.8 1001.1 344.7 994.9 347.1C988.8 344.7 988.8 339.8 994.9 337.4Z" fill="#ee4f7b"/><path d="M1007.1 336.5C1013.2 338.9 1013.2 343.8 1007.1 346.3C1001.0 343.8 1001.0 338.9 1007.1 336.5Z" fill="#ee4f7b"/><path d="M1019.3 335.9C1025.4 338.3 1025.4 343.2 1019.3 345.6C1013.2 343.2 1013.2 338.3 1019.3 335.9Z" fill="#ee4f7b"/><path d="M1031.5 335.9C1037.6 338.3 1037.6 343.2 1031.5 345.6C1025.4 343.2 1025.4 338.3 1031.5 335.9Z" fill="#ee4f7b"/><path d="M1043.7 335.9C1049.8 338.3 1049.8 343.2 1043.7 345.6C1037.6 343.2 1037.6 338.3 1043.7 335.9Z" fill="#ee4f7b"/><path d="M1055.9 336.5C1062.0 338.9 1062.0 343.8 1055.9 346.3C1049.8 343.8 1049.8 338.9 1055.9 336.5Z" fill="#ee4f7b"/><path d="M1068.1 337.4C1074.2 339.8 1074.2 344.7 1068.1 347.1C1062.0 344.7 1062.0 339.8 1068.1 337.4Z" fill="#ee4f7b"/><path d="M1080.3 340.5C1086.4 342.9 1086.4 347.8 1080.3 350.3C1074.2 347.8 1074.2 342.9 1080.3 340.5Z" fill="#ee4f7b"/><path d="M1092.5 341.5C1098.6 343.9 1098.6 348.8 1092.5 351.3C1086.4 348.8 1086.4 343.9 1092.5 341.5Z" fill="#ee4f7b"/><path d="M1104.7 342.1C1110.8 344.6 1110.8 349.4 1104.7 351.9C1098.6 349.4 1098.6 344.6 1104.7 342.1Z" fill="#ee4f7b"/><path d="M1116.9 320.1C1123.0 322.6 1123.0 327.4 1116.9 329.9C1110.8 327.4 1110.8 322.6 1116.9 320.1Z" fill="#ee4f7b"/><path d="M1129.1 338.4C1135.2 340.8 1135.2 345.7 1129.1 348.1C1123.0 345.7 1123.0 340.8 1129.1 338.4Z" fill="#ee4f7b"/><path d="M1141.3 178.3C1147.4 180.8 1147.4 185.7 1141.3 188.1C1135.2 185.7 1135.2 180.8 1141.3 178.3Z" fill="#ee4f7b"/><path d="M1153.5 169.0C1159.6 171.4 1159.6 176.3 1153.5 178.8C1147.4 176.3 1147.4 171.4 1153.5 169.0Z" fill="#ee4f7b"/><path d="M1165.7 175.1C1171.8 177.6 1171.8 182.4 1165.7 184.9C1159.6 182.4 1159.6 177.6 1165.7 175.1Z" fill="#ee4f7b"/><path d="M1177.9 178.8C1184.0 181.3 1184.0 186.2 1177.9 188.7C1171.8 186.2 1171.8 181.3 1177.9 178.8Z" fill="#ee4f7b"/><path d="M1190.1 180.7C1196.2 183.2 1196.2 188.1 1190.1 190.5C1183.9 188.1 1183.9 183.2 1190.1 180.7Z" fill="#ee4f7b"/><path d="M1202.3 182.5C1208.4 184.9 1208.4 189.8 1202.3 192.3C1196.1 189.8 1196.1 184.9 1202.3 182.5Z" fill="#ee4f7b"/><path d="M1214.5 186.6C1220.6 189.0 1220.6 193.9 1214.5 196.4C1208.3 193.9 1208.3 189.0 1214.5 186.6Z" fill="#ee4f7b"/><path d="M1226.7 188.1C1232.8 190.6 1232.8 195.4 1226.7 197.9C1220.5 195.4 1220.5 190.6 1226.7 188.1Z" fill="#ee4f7b"/><path d="M1238.9 192.2C1245.0 194.7 1245.0 199.6 1238.9 202.0C1232.7 199.6 1232.7 194.7 1238.9 192.2Z" fill="#ee4f7b"/><path d="M1251.1 195.5C1257.2 197.9 1257.2 202.8 1251.1 205.3C1244.9 202.8 1244.9 197.9 1251.1 195.5Z" fill="#ee4f7b"/><path d="M1263.2 200.3C1269.4 202.8 1269.4 207.7 1263.2 210.1C1257.1 207.7 1257.1 202.8 1263.2 200.3Z" fill="#ee4f7b"/><path d="M1275.4 207.2C1281.6 209.7 1281.6 214.6 1275.4 217.0C1269.3 214.6 1269.3 209.7 1275.4 207.2Z" fill="#ee4f7b"/><path d="M1287.6 210.7C1293.8 213.2 1293.8 218.1 1287.6 220.5C1281.5 218.1 1281.5 213.2 1287.6 210.7Z" fill="#ee4f7b"/><path d="M1299.8 214.6C1306.0 217.0 1306.0 221.9 1299.8 224.4C1293.7 221.9 1293.7 217.0 1299.8 214.6Z" fill="#ee4f7b"/><path d="M1312.0 218.1C1318.2 220.6 1318.2 225.4 1312.0 227.9C1305.9 225.4 1305.9 220.6 1312.0 218.1Z" fill="#ee4f7b"/><path d="M1324.2 221.8C1330.4 224.3 1330.4 229.2 1324.2 231.7C1318.1 229.2 1318.1 224.3 1324.2 221.8Z" fill="#ee4f7b"/><path d="M1336.4 225.2C1342.6 227.7 1342.6 232.6 1336.4 235.0C1330.3 232.6 1330.3 227.7 1336.4 225.2Z" fill="#ee4f7b"/><path d="M1348.6 229.8C1354.8 232.3 1354.8 237.2 1348.6 239.7C1342.5 237.2 1342.5 232.3 1348.6 229.8Z" fill="#ee4f7b"/><path d="M1360.8 234.1C1366.9 236.5 1366.9 241.4 1360.8 243.9C1354.7 241.4 1354.7 236.5 1360.8 234.1Z" fill="#ee4f7b"/><path d="M1373.0 239.1C1379.1 241.5 1379.1 246.4 1373.0 248.9C1366.9 246.4 1366.9 241.5 1373.0 239.1Z" fill="#ee4f7b"/><path d="M1385.2 244.5C1391.3 246.9 1391.3 251.8 1385.2 254.3C1379.1 251.8 1379.1 246.9 1385.2 244.5Z" fill="#ee4f7b"/><path d="M1397.4 249.8C1403.5 252.3 1403.5 257.2 1397.4 259.6C1391.3 257.2 1391.3 252.3 1397.4 249.8Z" fill="#ee4f7b"/><path d="M1409.6 255.2C1415.7 257.7 1415.7 262.6 1409.6 265.0C1403.5 262.6 1403.5 257.7 1409.6 255.2Z" fill="#ee4f7b"/><path d="M1421.8 259.9C1427.9 262.3 1427.9 267.2 1421.8 269.6C1415.7 267.2 1415.7 262.3 1421.8 259.9Z" fill="#ee4f7b"/><path d="M1434.0 265.6C1440.1 268.1 1440.1 272.9 1434.0 275.4C1427.9 272.9 1427.9 268.1 1434.0 265.6Z" fill="#ee4f7b"/><path d="M1446.2 271.9C1452.3 274.3 1452.3 279.2 1446.2 281.6C1440.1 279.2 1440.1 274.3 1446.2 271.9Z" fill="#ee4f7b"/><path d="M1458.4 278.1C1464.5 280.6 1464.5 285.4 1458.4 287.9C1452.3 285.4 1452.3 280.6 1458.4 278.1Z" fill="#ee4f7b"/><path d="M1470.6 286.0C1476.7 288.4 1476.7 293.3 1470.6 295.8C1464.5 293.3 1464.5 288.4 1470.6 286.0Z" fill="#ee4f7b"/><path d="M1482.8 293.7C1488.9 296.2 1488.9 301.1 1482.8 303.5C1476.7 301.1 1476.7 296.2 1482.8 293.7Z" fill="#ee4f7b"/><path d="M1495.0 300.1C1501.1 302.6 1501.1 307.4 1495.0 309.9C1488.9 307.4 1488.9 302.6 1495.0 300.1Z" fill="#ee4f7b"/><path d="M1507.2 393.7C1513.3 396.2 1513.3 401.1 1507.2 403.5C1501.1 401.1 1501.1 396.2 1507.2 393.7Z" fill="#ee4f7b"/><path d="M1519.4 392.8C1525.5 395.3 1525.5 400.2 1519.4 402.6C1513.2 400.2 1513.2 395.3 1519.4 392.8Z" fill="#ee4f7b"/><path d="M1531.6 391.6C1537.7 394.0 1537.7 398.9 1531.6 401.4C1525.4 398.9 1525.4 394.0 1531.6 391.6Z" fill="#ee4f7b"/><path d="M1543.8 392.8C1549.9 395.3 1549.9 400.2 1543.8 402.6C1537.6 400.2 1537.6 395.3 1543.8 392.8Z" fill="#ee4f7b"/><path d="M1556.0 393.7C1562.1 396.2 1562.1 401.1 1556.0 403.5C1549.8 401.1 1549.8 396.2 1556.0 393.7Z" fill="#ee4f7b"/><path d="M1568.2 393.7C1574.3 396.2 1574.3 401.1 1568.2 403.5C1562.0 401.1 1562.0 396.2 1568.2 393.7Z" fill="#ee4f7b"/><path d="M1580.4 391.6C1586.5 394.0 1586.5 398.9 1580.4 401.4C1574.2 398.9 1574.2 394.0 1580.4 391.6Z" fill="#ee4f7b"/><path d="M1592.6 392.8C1598.7 395.3 1598.7 400.2 1592.6 402.6C1586.4 400.2 1586.4 395.3 1592.6 392.8Z" fill="#ee4f7b"/><path d="M1604.8 394.7C1610.9 397.2 1610.9 402.1 1604.8 404.5C1598.6 402.1 1598.6 397.2 1604.8 394.7Z" fill="#ee4f7b"/><path d="M1616.9 396.0C1623.1 398.4 1623.1 403.3 1616.9 405.8C1610.8 403.3 1610.8 398.4 1616.9 396.0Z" fill="#ee4f7b"/><path d="M1629.1 400.1C1635.3 402.6 1635.3 407.4 1629.1 409.9C1623.0 407.4 1623.0 402.6 1629.1 400.1Z" fill="#ee4f7b"/><path d="M1641.3 401.0C1647.5 403.4 1647.5 408.3 1641.3 410.8C1635.2 408.3 1635.2 403.4 1641.3 401.0Z" fill="#ee4f7b"/><path d="M1653.5 384.3C1659.7 386.8 1659.7 391.7 1653.5 394.1C1647.4 391.7 1647.4 386.8 1653.5 384.3Z" fill="#ee4f7b"/><path d="M1665.7 390.6C1671.9 393.0 1671.9 397.9 1665.7 400.4C1659.6 397.9 1659.6 393.0 1665.7 390.6Z" fill="#ee4f7b"/><path d="M1677.9 398.5C1684.1 400.9 1684.1 405.8 1677.9 408.3C1671.8 405.8 1671.8 400.9 1677.9 398.5Z" fill="#ee4f7b"/><path d="M1690.1 411.0C1696.2 413.4 1696.2 418.3 1690.1 420.8C1684.0 418.3 1684.0 413.4 1690.1 411.0Z" fill="#ee4f7b"/><path d="M1702.3 414.1C1708.4 416.5 1708.4 421.4 1702.3 423.9C1696.2 421.4 1696.2 416.5 1702.3 414.1Z" fill="#ee4f7b"/><path d="M1714.5 417.2C1720.6 419.7 1720.6 424.6 1714.5 427.0C1708.4 424.6 1708.4 419.7 1714.5 417.2Z" fill="#ee4f7b"/><path d="M1726.7 418.9C1732.8 421.3 1732.8 426.2 1726.7 428.6C1720.6 426.2 1720.6 421.3 1726.7 418.9Z" fill="#ee4f7b"/><path d="M1738.9 419.7C1745.0 422.2 1745.0 427.1 1738.9 429.5C1732.8 427.1 1732.8 422.2 1738.9 419.7Z" fill="#ee4f7b"/><path d="M1751.1 420.9C1757.2 423.3 1757.2 428.2 1751.1 430.6C1745.0 428.2 1745.0 423.3 1751.1 420.9Z" fill="#ee4f7b"/><path d="M1763.3 420.9C1769.4 423.3 1769.4 428.2 1763.3 430.6C1757.2 428.2 1757.2 423.3 1763.3 420.9Z" fill="#ee4f7b"/><path d="M1775.5 420.9C1781.6 423.3 1781.6 428.2 1775.5 430.6C1769.4 428.2 1769.4 423.3 1775.5 420.9Z" fill="#ee4f7b"/><path d="M1787.7 420.9C1793.8 423.3 1793.8 428.2 1787.7 430.6C1781.6 428.2 1781.6 423.3 1787.7 420.9Z" fill="#ee4f7b"/><path d="M1799.9 420.9C1806.0 423.3 1806.0 428.2 1799.9 430.6C1793.8 428.2 1793.8 423.3 1799.9 420.9Z" fill="#ee4f7b"/><path d="M1812.1 420.9C1818.2 423.3 1818.2 428.2 1812.1 430.6C1806.0 428.2 1806.0 423.3 1812.1 420.9Z" fill="#ee4f7b"/></g>
</g>
</g>
<g filter="url(#b2)" font-family="'Liberation Sans', sans-serif">
<text x="258.0" y="343.8" font-size="9.6" fill="#7e7e84" textLength="3.8" lengthAdjust="spacingAndGlyphs">0</text>
<text x="247.0" y="297.5" font-size="9.6" fill="#7e7e84" textLength="14.8" lengthAdjust="spacingAndGlyphs">500</text>
<text x="247.0" y="250.6" font-size="9.6" fill="#7e7e84" textLength="14.8" lengthAdjust="spacingAndGlyphs">1000</text>
<text x="247.0" y="203.7" font-size="9.6" fill="#7e7e84" textLength="14.8" lengthAdjust="spacingAndGlyphs">1500</text>
<text x="247.0" y="157.1" font-size="9.6" fill="#7e7e84" textLength="14.8" lengthAdjust="spacingAndGlyphs">2000</text>
<text x="247.0" y="110.2" font-size="9.6" fill="#7e7e84" textLength="14.8" lengthAdjust="spacingAndGlyphs">2500</text>
<text x="247.0" y="62.7" font-size="9.6" fill="#7e7e84" textLength="14.8" lengthAdjust="spacingAndGlyphs">3000</text>
<text x="262.8" y="358.6" font-size="9.8" fill="#7e7e84" textLength="16.4" lengthAdjust="spacingAndGlyphs">04:00</text>
<text x="303.8" y="358.6" font-size="9.8" fill="#7e7e84" textLength="16.4" lengthAdjust="spacingAndGlyphs">05:00</text>
<text x="344.8" y="358.6" font-size="9.8" fill="#7e7e84" textLength="16.4" lengthAdjust="spacingAndGlyphs">06:00</text>
<text x="385.7" y="358.6" font-size="9.8" fill="#7e7e84" textLength="16.4" lengthAdjust="spacingAndGlyphs">07:00</text>
<text x="426.7" y="358.6" font-size="9.8" fill="#7e7e84" textLength="16.4" lengthAdjust="spacingAndGlyphs">08:00</text>
<text x="467.7" y="358.6" font-size="9.8" fill="#7e7e84" textLength="16.4" lengthAdjust="spacingAndGlyphs">09:00</text>
<text x="508.7" y="358.6" font-size="9.8" fill="#7e7e84" textLength="16.4" lengthAdjust="spacingAndGlyphs">10:00</text>
<text x="549.7" y="358.6" font-size="9.8" fill="#7e7e84" textLength="16.4" lengthAdjust="spacingAndGlyphs">11:00</text>
<text x="590.6" y="358.6" font-size="9.8" fill="#7e7e84" textLength="16.4" lengthAdjust="spacingAndGlyphs">12:00</text>
<text x="631.6" y="358.6" font-size="9.8" fill="#7e7e84" textLength="16.4" lengthAdjust="spacingAndGlyphs">13:00</text>
<text x="672.6" y="358.6" font-size="9.8" fill="#7e7e84" textLength="16.4" lengthAdjust="spacingAndGlyphs">14:00</text>
<text x="713.6" y="358.6" font-size="9.8" fill="#7e7e84" textLength="16.4" lengthAdjust="spacingAndGlyphs">15:00</text>
<text x="754.6" y="358.6" font-size="9.8" fill="#7e7e84" textLength="16.4" lengthAdjust="spacingAndGlyphs">16:00</text>
<text x="795.5" y="358.6" font-size="9.8" fill="#7e7e84" textLength="16.4" lengthAdjust="spacingAndGlyphs">17:00</text>
<text x="836.5" y="358.6" font-size="9.8" fill="#7e7e84" textLength="16.4" lengthAdjust="spacingAndGlyphs">18:00</text>
<text x="877.5" y="358.6" font-size="9.8" fill="#7e7e84" textLength="16.4" lengthAdjust="spacingAndGlyphs">19:00</text>
<text x="918.5" y="358.6" font-size="9.8" fill="#7e7e84" textLength="16.4" lengthAdjust="spacingAndGlyphs">20:00</text>
<text x="959.5" y="358.6" font-size="9.8" fill="#7e7e84" textLength="16.4" lengthAdjust="spacingAndGlyphs">21:00</text>
<text x="1000.4" y="358.6" font-size="9.8" fill="#7e7e84" textLength="16.4" lengthAdjust="spacingAndGlyphs">22:00</text>
<text transform="translate(241.4,233.3) rotate(-90)" font-size="8.6" fill="#94949a" textLength="62.6" lengthAdjust="spacingAndGlyphs">umol.m 2.s 1</text>
<line x1="463.9" y1="384.8" x2="473.5" y2="384.8" stroke="#6dacea" stroke-width="1.3"/>
<path d="M468.7 381.2L472.1 384.8 468.7 388.4 465.3 384.8Z" fill="#6dacea"/>
<text x="476.4" y="388.6" font-size="10.2" font-weight="bold" fill="#333" stroke="#333" stroke-width="0.2" textLength="31" lengthAdjust="spacingAndGlyphs">[4] Row 1</text>
<line x1="519.2" y1="384.8" x2="528.8000000000001" y2="384.8" stroke="#3c3d44" stroke-width="1.3"/>
<path d="M524.0 381.6L526.3 384.8 524.0 388.0 521.7 384.8Z" fill="#3c3d44"/>
<text x="531.7" y="388.6" font-size="10.2" font-weight="bold" fill="#333" stroke="#333" stroke-width="0.2" textLength="31" lengthAdjust="spacingAndGlyphs">[4] Row 2</text>
<line x1="574.5" y1="384.8" x2="584.1" y2="384.8" stroke="#8ee97a" stroke-width="1.3"/>
<rect x="576.5" y="381.4" width="5.6" height="6.8" fill="#8ee97a"/>
<text x="587.0" y="388.6" font-size="10.2" font-weight="bold" fill="#333" stroke="#333" stroke-width="0.2" textLength="31" lengthAdjust="spacingAndGlyphs">[4] Row 3</text>
<line x1="629.7" y1="384.8" x2="639.3000000000001" y2="384.8" stroke="#f59b50" stroke-width="1.3"/>
<path d="M634.5 381.8L637.1 387.8 631.9 387.8Z" fill="#f59b50"/>
<text x="642.2" y="388.6" font-size="10.2" font-weight="bold" fill="#333" stroke="#333" stroke-width="0.2" textLength="31" lengthAdjust="spacingAndGlyphs">[4] Row 4</text>
<line x1="685.0" y1="384.8" x2="694.6" y2="384.8" stroke="#7b80e8" stroke-width="1.3"/>
<path d="M687.6 382.2L692.0 382.2 689.8 387.4Z" fill="#7b80e8"/>
<text x="697.5" y="388.6" font-size="10.2" font-weight="bold" fill="#333" stroke="#333" stroke-width="0.2" textLength="31" lengthAdjust="spacingAndGlyphs">[4] Row 5</text>
<line x1="740.3" y1="384.8" x2="749.9" y2="384.8" stroke="#ee4f7b" stroke-width="1.3"/>
<path d="M745.1 380.9L748.3 384.8 745.1 388.7 741.9 384.8Z" fill="#ee4f7b"/>
<text x="752.8" y="388.6" font-size="10.2" font-weight="bold" fill="#333" stroke="#333" stroke-width="0.2" textLength="31" lengthAdjust="spacingAndGlyphs">[4] Row 6</text>
</g>
</svg>
</body></html>
